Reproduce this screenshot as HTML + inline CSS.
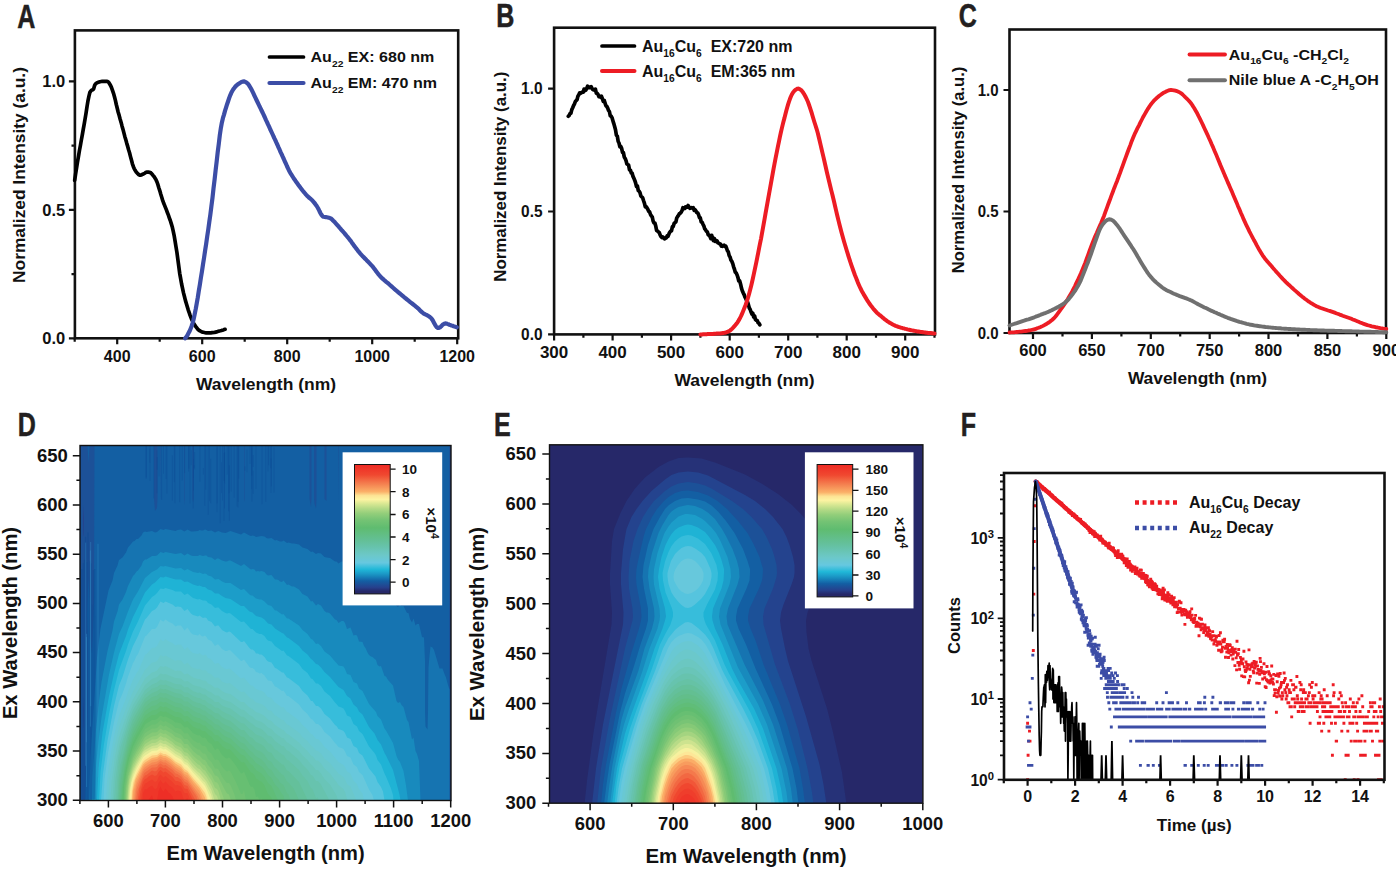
<!DOCTYPE html>
<html><head><meta charset="utf-8"><title>Figure</title>
<style>html,body{margin:0;padding:0;background:#fff}svg{display:block;font-family:"Liberation Sans",sans-serif;font-weight:bold}</style>
</head><body>
<svg width="1396" height="869" viewBox="0 0 1396 869">
<rect width="1396" height="869" fill="#fff"/>
<text transform="translate(17.3 27.9) scale(0.760 1)" font-size="33" text-anchor="start" fill="#231f20" stroke="#231f20" stroke-width="0.5">A</text>
<rect x="74.9" y="30.4" width="383.3" height="307.9" fill="none" stroke="#111" stroke-width="2.6"/>
<path d="M117.2 338.3v6M202.2 338.3v6M287.2 338.3v6M372.2 338.3v6M457.2 338.3v6M74.7 338.3v3.4M159.7 338.3v3.4M244.7 338.3v3.4M329.7 338.3v3.4M414.7 338.3v3.4" stroke="#111" stroke-width="2.2" fill="none"/>
<path d="M74.9 338.3h-6M74.9 209.9h-6M74.9 81.4h-6M74.9 274.1h-3.4M74.9 145.6h-3.4" stroke="#111" stroke-width="2.2" fill="none"/>
<path d="M74.7 180.3 75.6 174 76.6 167.8 77.5 161.9 78.5 156.2 79.4 150.8 80.4 145.5 81.3 140.2 82.3 134.9 83.2 129.6 84.2 124.2 85.1 118.7 86.1 112.8 87 106.7 87.9 101.2 88.9 96.4 89.8 92.6 90.8 91 91.7 90.1 92.7 89.7 93.6 89 94.6 85.5 95.5 83.9 96.5 83.1 97.4 82.6 98.4 82.2 99.3 81.9 100.2 81.7 101.2 81.5 102.1 81.4 103.1 81.4 104 81.4 105 81.4 105.9 81.4 106.9 81.4 107.8 81.5 108.8 82.5 109.7 84 110.7 85.7 111.6 87.8 112.5 90.4 113.5 93.3 114.4 96.5 115.4 100.4 116.3 104.5 117.3 108.5 118.2 112.2 119.2 115.6 120.1 119 121.1 122.4 122 125.9 123 129.4 123.9 132.9 124.8 136.4 125.8 139.8 126.7 143.1 127.7 146.4 128.6 149.7 129.6 153 130.5 156.6 131.5 160.3 132.4 163.8 133.4 166.7 134.3 168.8 135.3 170.6 136.2 172 137.2 173.1 138.1 174 139 174.8 140 175.2 140.9 175.1 141.9 174.7 142.8 174.2 143.8 173.8 144.7 173.2 145.7 172.5 146.6 172.1 147.6 172.1 148.5 172.2 149.5 172.3 150.4 172.5 151.3 173.3 152.3 174.4 153.2 175.6 154.2 176.8 155.1 178.2 156.1 179.9 157 182 158 184.9 158.9 188 159.9 191.1 160.8 194.3 161.8 197.5 162.7 200.4 163.6 203 164.6 205.4 165.5 207.7 166.5 210.1 167.4 212.6 168.4 215.2 169.3 217.8 170.3 220.5 171.2 223.4 172.2 226.7 173.1 230.6 174.1 235.3 175 240.6 175.9 246.3 176.9 252.2 177.8 259 178.8 266.4 179.7 273.3 180.7 278.9 181.6 284 182.6 288.7 183.5 292.9 184.5 296.8 185.4 300.4 186.4 303.7 187.3 306.8 188.2 309.8 189.2 312.7 190.1 315.4 191.1 317.9 192 320 193 322 193.9 323.7 194.9 325.2 195.8 326.6 196.8 327.9 197.7 329.1 198.7 330 199.6 330.7 200.5 331.2 201.5 331.7 202.4 332.1 203.4 332.3 204.3 332.5 205.3 332.7 206.2 332.9 207.2 332.9 208.1 332.9 209.1 332.9 210 332.8 211 332.8 211.9 332.7 212.8 332.6 213.8 332.5 214.7 332.4 215.7 332.1 216.6 331.9 217.6 331.6 218.5 331.3 219.5 331 220.4 330.8 221.4 330.5 222.3 330.2 223.3 329.9 224.2 329.6 225.1 329.3" fill="none" stroke="#000" stroke-width="3.7" stroke-linejoin="round" stroke-linecap="round"/>
<path d="M185.2 338.3 186.2 337 187.3 335.5 188.3 333.6 189.4 331.6 190.4 329.2 191.5 326.5 192.5 323.3 193.6 319.4 194.6 314.6 195.7 309.2 196.7 303.6 197.8 297.4 198.8 290.9 199.9 284.3 200.9 277.7 202 271.1 203 264.4 204.1 257.5 205.1 250.6 206.2 243.6 207.2 236.5 208.3 229.2 209.3 221.9 210.4 214.3 211.4 206.3 212.5 197.7 213.5 188.6 214.6 179.5 215.6 170.4 216.7 161.2 217.7 152.2 218.8 143.7 219.8 135.2 220.9 127.8 221.9 122.4 222.9 118.2 224 114.6 225 110.9 226.1 107.4 227.1 104.2 228.2 101 229.2 97.9 230.3 95.1 231.3 92.8 232.4 90.8 233.4 89.1 234.5 87.7 235.5 86.4 236.6 85.4 237.6 84.5 238.7 83.7 239.7 83.1 240.8 82.4 241.8 81.9 242.9 81.5 243.9 81.4 245 81.7 246 82.3 247.1 83.1 248.1 84.1 249.2 85.6 250.2 87.3 251.3 89.1 252.3 91.2 253.4 93.4 254.4 95.6 255.5 97.9 256.5 100 257.6 102.2 258.6 104.3 259.6 106.5 260.7 108.6 261.7 110.8 262.8 113 263.8 115.2 264.9 117.5 265.9 119.8 267 122.1 268 124.4 269.1 126.7 270.1 129 271.2 131.3 272.2 133.5 273.3 135.8 274.3 138.1 275.4 140.4 276.4 142.7 277.5 145 278.5 147.4 279.6 149.7 280.6 152.1 281.7 154.4 282.7 156.7 283.8 159 284.8 161.3 285.9 163.7 286.9 166 288 168.3 289 170.4 290.1 172.4 291.1 174.2 292.2 175.9 293.2 177.5 294.2 179.1 295.3 180.6 296.3 182.1 297.4 183.6 298.4 185 299.5 186.4 300.5 187.8 301.6 189.2 302.6 190.5 303.7 191.8 304.7 193 305.8 194.3 306.8 195.4 307.9 196.5 308.9 197.5 310 198.4 311 199.2 312.1 200.2 313.1 201.3 314.2 202.6 315.2 203.9 316.3 205.4 317.3 207 318.4 208.8 319.4 211 320.5 213.2 321.5 214.9 322.6 216.3 323.6 216.8 324.7 217 325.7 217.1 326.8 217.3 327.8 217.5 328.9 217.8 329.9 218.1 330.9 218.5 332 219.4 333 220.5 334.1 221.6 335.1 222.6 336.2 223.8 337.2 225 338.3 226.2 339.3 227.4 340.4 228.6 341.4 229.8 342.5 231 343.5 232.2 344.6 233.4 345.6 234.7 346.7 236 347.7 237.2 348.8 238.5 349.8 239.9 350.9 241.2 351.9 242.7 353 244.1 354 245.6 355.1 247 356.1 248.4 357.2 249.8 358.2 251.1 359.3 252.4 360.3 253.6 361.4 254.8 362.4 255.9 363.5 257 364.5 258.1 365.6 259.1 366.6 260.2 367.6 261.2 368.7 262.3 369.7 263.4 370.8 264.6 371.8 265.7 372.9 266.9 373.9 268.2 375 269.6 376 271.1 377.1 272.5 378.1 273.9 379.2 275.2 380.2 276.3 381.3 277.4 382.3 278.4 383.4 279.4 384.4 280.3 385.5 281.2 386.5 282.1 387.6 282.9 388.6 283.8 389.7 284.8 390.7 285.7 391.8 286.6 392.8 287.5 393.9 288.5 394.9 289.4 396 290.3 397 291.2 398.1 292.1 399.1 293 400.2 293.8 401.2 294.7 402.3 295.6 403.3 296.4 404.3 297.3 405.4 298.2 406.4 299 407.5 299.9 408.5 300.7 409.6 301.6 410.6 302.4 411.7 303.2 412.7 304 413.8 304.9 414.8 305.7 415.9 306.6 416.9 307.4 418 308.3 419 309.3 420.1 310.4 421.1 311.4 422.2 312.4 423.2 313.2 424.3 313.9 425.3 314.4 426.4 314.9 427.4 315.4 428.5 316.1 429.5 316.8 430.6 317.6 431.6 318.7 432.7 320.3 433.7 322.2 434.8 324.2 435.8 326 436.9 327.3 437.9 328 438.9 327.9 440 327.4 441 326.5 442.1 325.3 443.1 324.4 444.2 323.7 445.2 323.4 446.3 323.5 447.3 323.9 448.4 324.3 449.4 324.7 450.5 325.1 451.5 325.5 452.6 325.8 453.6 326.2 454.7 326.6 455.7 326.9 456.8 327.3" fill="none" stroke="#3c4da6" stroke-width="4.2" stroke-linejoin="round" stroke-linecap="round"/>
<text transform="translate(117.2 361.7)" font-size="16.0" text-anchor="middle" fill="#111">400</text>
<text transform="translate(202.2 361.7)" font-size="16.0" text-anchor="middle" fill="#111">600</text>
<text transform="translate(287.2 361.7)" font-size="16.0" text-anchor="middle" fill="#111">800</text>
<text transform="translate(372.2 361.7)" font-size="16.0" text-anchor="middle" fill="#111">1000</text>
<text transform="translate(457.2 361.7)" font-size="16.0" text-anchor="middle" fill="#111">1200</text>
<text transform="translate(65.2 343.9)" font-size="16.5" text-anchor="end" fill="#111">0.0</text>
<text transform="translate(65.2 215.5)" font-size="16.5" text-anchor="end" fill="#111">0.5</text>
<text transform="translate(65.2 87)" font-size="16.5" text-anchor="end" fill="#111">1.0</text>
<text transform="translate(266 389.8) scale(1.108 1)" font-size="15.8" text-anchor="middle" fill="#111">Wavelength (nm)</text>
<text transform="translate(24.5 175) rotate(-90)" font-size="17.35" text-anchor="middle" fill="#111">Normalized Intensity (a.u.)</text>
<path d="M269.5 57 303.5 57" fill="none" stroke="#000" stroke-width="3.7" stroke-linejoin="round" stroke-linecap="round"/>
<path d="M269.5 83 303.5 83" fill="none" stroke="#3c4da6" stroke-width="4.2" stroke-linejoin="round" stroke-linecap="round"/>
<text transform="translate(310.5 62) scale(1.085 1)" font-size="14.8" text-anchor="start" fill="#111">Au<tspan font-size="64%" dy="0.50em">22</tspan><tspan dy="-0.32em">&#8203;</tspan> EX: 680 nm</text>
<text transform="translate(310.5 88) scale(1.085 1)" font-size="14.8" text-anchor="start" fill="#111">Au<tspan font-size="64%" dy="0.50em">22</tspan><tspan dy="-0.32em">&#8203;</tspan> EM: 470 nm</text>
<text transform="translate(496.3 26.6) scale(0.760 1)" font-size="33" text-anchor="start" fill="#231f20" stroke="#231f20" stroke-width="0.5">B</text>
<rect x="554.1" y="27.7" width="380.9" height="306.7" fill="none" stroke="#111" stroke-width="2.6"/>
<path d="M554.1 334.4v6M612.6 334.4v6M671.1 334.4v6M729.7 334.4v6M788.2 334.4v6M846.7 334.4v6M905.2 334.4v6M583.4 334.4v3.4M641.9 334.4v3.4M700.4 334.4v3.4M758.9 334.4v3.4M817.4 334.4v3.4M876 334.4v3.4M934.5 334.4v3.4" stroke="#111" stroke-width="2.2" fill="none"/>
<path d="M554.1 334.4h-6M554.1 211.5h-6M554.1 88.6h-6" stroke="#111" stroke-width="2.2" fill="none"/>
<path d="M568.3 116.3 569.2 115.4 570.1 113.5 570.9 113.2 571.8 109.6 572.7 107.7 573.6 105.5 574.4 104.1 575.3 101.7 576.2 100.5 577.1 99.7 577.9 96.2 578.8 94.8 579.7 92.8 580.6 93.3 581.4 92.7 582.3 92 583.2 92.2 584.1 89.1 584.9 90.6 585.8 90.1 586.7 88.5 587.6 86.2 588.4 86.8 589.3 87.7 590.2 87.4 591.1 86.6 591.9 88.1 592.8 89.6 593.7 89.9 594.6 89.6 595.4 89.1 596.3 93.1 597.2 93.3 598 94.3 598.9 96.7 599.8 96.2 600.7 97.3 601.5 96.3 602.4 98.6 603.3 101.3 604.2 100.4 605 102.9 605.9 105.8 606.8 106.3 607.7 108.1 608.5 110.3 609.4 111.5 610.3 115.9 611.2 116.3 612 117.6 612.9 120.7 613.8 123.6 614.7 126.8 615.5 129.7 616.4 135.2 617.3 136.1 618.2 141.5 619 143 619.9 146.9 620.8 146.5 621.7 148.6 622.5 152.4 623.4 152.6 624.3 157.2 625.2 158.5 626 160.6 626.9 163.9 627.8 164.5 628.6 165 629.5 169.9 630.4 170 631.3 173 632.1 173.1 633 176.4 633.9 178.3 634.8 180.4 635.6 182.9 636.5 186.6 637.4 186 638.3 190.7 639.1 191.1 640 192.7 640.9 196 641.8 196.9 642.6 197.6 643.5 200.5 644.4 203.1 645.3 206.8 646.1 206.6 647 207.9 647.9 209.5 648.8 211.5 649.6 211.8 650.5 214.5 651.4 215.9 652.3 217.1 653.1 221 654 223 654.9 223 655.8 226.3 656.6 230.4 657.5 231 658.4 231.9 659.3 232.7 660.1 234.9 661 236.6 661.9 237.6 662.7 236.9 663.6 237.7 664.5 238.8 665.4 238.3 666.2 237.9 667.1 235.9 668 236.4 668.9 234.1 669.7 232.3 670.6 231.2 671.5 230.8 672.4 226.7 673.2 226.6 674.1 223.4 675 222.6 675.9 221.8 676.7 218.2 677.6 216.5 678.5 215.4 679.4 213.7 680.2 213.3 681.1 212.3 682 210.7 682.9 207.7 683.7 207.9 684.6 208.6 685.5 206.9 686.4 207.4 687.2 207 688.1 205.5 689 206.9 689.9 208.3 690.7 208 691.6 207.6 692.5 208.2 693.3 207.7 694.2 210.3 695.1 209.7 696 211 696.8 212.6 697.7 212.9 698.6 214.8 699.5 217.8 700.3 217.8 701.2 221.8 702.1 222.3 703 224.3 703.8 225.8 704.7 228.8 705.6 229.8 706.5 231.5 707.3 231.7 708.2 234.8 709.1 235.2 710 236.6 710.8 238.5 711.7 235.3 712.6 238.7 713.5 240.7 714.3 238.4 715.2 241.4 716.1 240.5 717 240.7 717.8 242.7 718.7 243.1 719.6 243.8 720.5 244 721.3 246.1 722.2 246.3 723.1 245.8 724 245.2 724.8 246.3 725.7 246.1 726.6 248.2 727.4 250.7 728.3 251.9 729.2 255.6 730.1 257.1 730.9 259.9 731.8 261.3 732.7 263.4 733.6 266.8 734.4 269 735.3 272.2 736.2 273 737.1 275 737.9 277.3 738.8 281 739.7 280.9 740.6 284.2 741.4 287.9 742.3 290.7 743.2 292.8 744.1 294.6 744.9 297 745.8 298.7 746.7 300.6 747.6 302.2 748.4 304.6 749.3 308 750.2 309.5 751.1 312.1 751.9 314 752.8 313.2 753.7 317 754.6 315.9 755.4 319.5 756.3 320.2 757.2 320.5 758 322.6 758.9 323.3 759.8 324.8" fill="none" stroke="#000" stroke-width="3.7" stroke-linejoin="round" stroke-linecap="round"/>
<path d="M700.4 334.4 701.3 334.4 702.2 334.4 703.1 334.3 704 334.3 704.9 334.3 705.8 334.2 706.7 334.2 707.6 334.1 708.5 334.1 709.4 334.1 710.3 334 711.2 334 712.1 333.9 713.1 333.9 714 333.8 714.9 333.8 715.8 333.7 716.7 333.6 717.6 333.6 718.5 333.5 719.4 333.4 720.3 333.4 721.2 333.3 722.1 333.2 723 333 723.9 332.9 724.8 332.7 725.7 332.5 726.6 332.2 727.5 331.8 728.4 331.4 729.3 330.9 730.2 330.4 731.1 329.7 732 328.8 732.9 327.9 733.8 326.9 734.7 325.9 735.6 324.8 736.6 323.6 737.5 322.3 738.4 320.9 739.3 319.4 740.2 317.7 741.1 315.9 742 313.9 742.9 311.8 743.8 309.6 744.7 307.3 745.6 305 746.5 302.4 747.4 299.7 748.3 296.7 749.2 293.5 750.1 290.1 751 286.6 751.9 282.7 752.8 278.7 753.7 274.6 754.6 270.4 755.5 266.1 756.4 261.8 757.3 257.3 758.2 252.8 759.1 248.2 760 243.6 761 238.8 761.9 233.9 762.8 228.9 763.7 223.8 764.6 218.8 765.5 213.7 766.4 208.6 767.3 203.6 768.2 198.6 769.1 193.6 770 188.7 770.9 183.7 771.8 178.7 772.7 173.6 773.6 168.6 774.5 163.9 775.4 159.2 776.3 154.7 777.2 150.2 778.1 145.7 779 141.3 779.9 136.9 780.8 132.8 781.7 128.9 782.6 125.1 783.5 121.5 784.5 117.9 785.4 114.2 786.3 110.7 787.2 107.5 788.1 104.4 789 101.6 789.9 99.1 790.8 96.8 791.7 94.8 792.6 93.2 793.5 91.9 794.4 90.8 795.3 90 796.2 89.4 797.1 88.8 798 88.6 798.9 88.7 799.8 89.2 800.7 89.8 801.6 90.6 802.5 91.7 803.4 93 804.3 94.4 805.2 96 806.1 97.8 807 99.8 808 102 808.9 104.5 809.8 107.2 810.7 109.9 811.6 112.7 812.5 115.7 813.4 118.7 814.3 121.7 815.2 124.5 816.1 127.3 817 130.3 817.9 133.5 818.8 137.2 819.7 141 820.6 144.9 821.5 148.7 822.4 152.6 823.3 156.4 824.2 160.3 825.1 164.3 826 168.2 826.9 172.2 827.8 176 828.7 179.8 829.6 183.5 830.5 187.2 831.4 190.9 832.4 194.7 833.3 198.5 834.2 202.3 835.1 206.2 836 210.1 836.9 214 837.8 217.7 838.7 221.4 839.6 225 840.5 228.6 841.4 232 842.3 235.3 843.2 238.5 844.1 241.7 845 244.8 845.9 247.8 846.8 250.8 847.7 253.7 848.6 256.6 849.5 259.4 850.4 262.2 851.3 264.8 852.2 267.4 853.1 270 854 272.5 854.9 275 855.9 277.4 856.8 279.8 857.7 282.1 858.6 284.2 859.5 286.2 860.4 288.2 861.3 290 862.2 291.7 863.1 293.3 864 294.9 864.9 296.4 865.8 297.9 866.7 299.4 867.6 300.8 868.5 302.2 869.4 303.5 870.3 304.8 871.2 306 872.1 307.1 873 308.3 873.9 309.4 874.8 310.4 875.7 311.4 876.6 312.4 877.5 313.2 878.4 314 879.3 314.8 880.3 315.5 881.2 316.3 882.1 317.1 883 317.8 883.9 318.6 884.8 319.3 885.7 320 886.6 320.6 887.5 321.3 888.4 321.9 889.3 322.5 890.2 323.1 891.1 323.6 892 324.1 892.9 324.5 893.8 325 894.7 325.4 895.6 325.8 896.5 326.1 897.4 326.5 898.3 326.8 899.2 327.1 900.1 327.4 901 327.7 901.9 327.9 902.8 328.2 903.8 328.4 904.7 328.7 905.6 328.9 906.5 329.1 907.4 329.4 908.3 329.6 909.2 329.8 910.1 330 911 330.2 911.9 330.4 912.8 330.6 913.7 330.7 914.6 330.9 915.5 331.1 916.4 331.2 917.3 331.4 918.2 331.5 919.1 331.6 920 331.8 920.9 331.9 921.8 332 922.7 332.2 923.6 332.3 924.5 332.4 925.4 332.5 926.3 332.7 927.2 332.8 928.2 332.9 929.1 333 930 333.1 930.9 333.1 931.8 333.2 932.7 333.3 933.6 333.4 934.5 333.4" fill="none" stroke="#ed1c24" stroke-width="4.0" stroke-linejoin="round" stroke-linecap="round"/>
<text transform="translate(554.1 358.3)" font-size="17.0" text-anchor="middle" fill="#111">300</text>
<text transform="translate(612.6 358.3)" font-size="17.0" text-anchor="middle" fill="#111">400</text>
<text transform="translate(671.1 358.3)" font-size="17.0" text-anchor="middle" fill="#111">500</text>
<text transform="translate(729.7 358.3)" font-size="17.0" text-anchor="middle" fill="#111">600</text>
<text transform="translate(788.2 358.3)" font-size="17.0" text-anchor="middle" fill="#111">700</text>
<text transform="translate(846.7 358.3)" font-size="17.0" text-anchor="middle" fill="#111">800</text>
<text transform="translate(905.2 358.3)" font-size="17.0" text-anchor="middle" fill="#111">900</text>
<text transform="translate(542.5 340.2) scale(0.940 1)" font-size="16.4" text-anchor="end" fill="#111">0.0</text>
<text transform="translate(542.5 217.3) scale(0.940 1)" font-size="16.4" text-anchor="end" fill="#111">0.5</text>
<text transform="translate(542.5 94.4) scale(0.940 1)" font-size="16.4" text-anchor="end" fill="#111">1.0</text>
<text transform="translate(744.5 385.6) scale(1.108 1)" font-size="15.8" text-anchor="middle" fill="#111">Wavelength (nm)</text>
<text transform="translate(506 176.7) rotate(-90)" font-size="16.9" text-anchor="middle" fill="#111">Normalized Intensity (a.u.)</text>
<path d="M602 46 634.5 46" fill="none" stroke="#000" stroke-width="3.7" stroke-linejoin="round" stroke-linecap="round"/>
<path d="M602 71 634.5 71" fill="none" stroke="#ed1c24" stroke-width="4.0" stroke-linejoin="round" stroke-linecap="round"/>
<text transform="translate(642 51.5)" font-size="16.0" text-anchor="start" fill="#111">Au<tspan font-size="64%" dy="0.50em">16</tspan><tspan dy="-0.32em">&#8203;</tspan>Cu<tspan font-size="64%" dy="0.50em">6</tspan><tspan dy="-0.32em">&#8203;</tspan>&#160; EX:720 nm</text>
<text transform="translate(642 76.7)" font-size="16.0" text-anchor="start" fill="#111">Au<tspan font-size="64%" dy="0.50em">16</tspan><tspan dy="-0.32em">&#8203;</tspan>Cu<tspan font-size="64%" dy="0.50em">6</tspan><tspan dy="-0.32em">&#8203;</tspan>&#160; EM:365 nm</text>
<text transform="translate(958.8 26.6) scale(0.760 1)" font-size="33" text-anchor="start" fill="#231f20" stroke="#231f20" stroke-width="0.5">C</text>
<rect x="1009.5" y="29.5" width="376.5" height="303.5" fill="none" stroke="#111" stroke-width="2.6"/>
<path d="M1033 333v6M1091.9 333v6M1150.8 333v6M1209.7 333v6M1268.5 333v6M1327.4 333v6M1386.3 333v6M1062.5 333v3.4M1121.4 333v3.4M1180.2 333v3.4M1239.1 333v3.4M1298 333v3.4M1356.9 333v3.4" stroke="#111" stroke-width="2.2" fill="none"/>
<path d="M1009.5 333h-6M1009.5 211.5h-6M1009.5 90h-6" stroke="#111" stroke-width="2.2" fill="none"/>
<path d="M1009.5 332.5 1011 332.4 1012.4 332.4 1013.9 332.3 1015.3 332.1 1016.8 332 1018.2 331.9 1019.7 331.7 1021.1 331.6 1022.6 331.4 1024 331.2 1025.5 331 1027 330.8 1028.4 330.5 1029.9 330.3 1031.3 330 1032.8 329.7 1034.2 329.3 1035.7 328.9 1037.1 328.3 1038.6 327.8 1040.1 327.2 1041.5 326.6 1043 325.9 1044.4 325.1 1045.9 324.3 1047.3 323.4 1048.8 322.5 1050.2 321.4 1051.7 320.3 1053.1 319 1054.6 317.6 1056.1 315.8 1057.5 313.9 1059 311.8 1060.4 309.8 1061.9 307.8 1063.3 305.8 1064.8 303.7 1066.2 301.6 1067.7 299.3 1069.1 296.8 1070.6 294.3 1072.1 291.7 1073.5 288.9 1075 286 1076.4 282.9 1077.9 279.9 1079.3 276.7 1080.8 273.5 1082.2 270.1 1083.7 266.6 1085.2 262.9 1086.6 258.9 1088.1 254.9 1089.5 251 1091 247 1092.4 243.2 1093.9 239.5 1095.3 236 1096.8 232.8 1098.2 229.5 1099.7 226.1 1101.2 222.8 1102.6 219.3 1104.1 215.7 1105.5 211.7 1107 207.7 1108.4 203.7 1109.9 199.8 1111.3 195.9 1112.8 192 1114.2 188.2 1115.7 184.4 1117.2 180.7 1118.6 176.8 1120.1 172.9 1121.5 168.9 1123 164.9 1124.4 160.9 1125.9 156.9 1127.3 153 1128.8 149 1130.3 145.1 1131.7 141.2 1133.2 137.5 1134.6 134.2 1136.1 131.1 1137.5 128.2 1139 125.3 1140.4 122.4 1141.9 119.5 1143.3 116.7 1144.8 114.1 1146.3 111.5 1147.7 109.1 1149.2 106.9 1150.6 104.8 1152.1 102.9 1153.5 101.2 1155 99.7 1156.4 98.3 1157.9 97 1159.3 95.8 1160.8 94.7 1162.3 93.6 1163.7 92.7 1165.2 92 1166.6 91.3 1168.1 90.6 1169.5 90.2 1171 90 1172.4 90.1 1173.9 90.3 1175.4 90.7 1176.8 91.1 1178.3 91.7 1179.7 92.4 1181.2 93.3 1182.6 94.5 1184.1 96 1185.5 97.4 1187 98.8 1188.4 100.3 1189.9 101.9 1191.4 103.8 1192.8 105.9 1194.3 108.3 1195.7 110.7 1197.2 113.3 1198.6 116.2 1200.1 119.1 1201.5 122 1203 125.1 1204.4 128.2 1205.9 131.4 1207.4 134.6 1208.8 137.8 1210.3 141 1211.7 144.3 1213.2 147.6 1214.6 151 1216.1 154.4 1217.5 157.9 1219 161.5 1220.4 165 1221.9 168.5 1223.4 172 1224.8 175.4 1226.3 178.7 1227.7 182.1 1229.2 185.4 1230.6 188.7 1232.1 192.1 1233.5 195.5 1235 198.9 1236.5 202.4 1237.9 205.9 1239.4 209.3 1240.8 212.7 1242.3 216.1 1243.7 219.4 1245.2 222.6 1246.6 225.7 1248.1 228.7 1249.5 231.6 1251 234.5 1252.5 237.3 1253.9 240 1255.4 242.7 1256.8 245.4 1258.3 248.1 1259.7 250.6 1261.2 253 1262.6 255.3 1264.1 257.4 1265.5 259.3 1267 261.1 1268.5 262.7 1269.9 264.4 1271.4 266 1272.8 267.7 1274.3 269.4 1275.7 271.1 1277.2 272.7 1278.6 274.3 1280.1 276 1281.6 277.6 1283 279.1 1284.5 280.6 1285.9 282.1 1287.4 283.5 1288.8 284.8 1290.3 286.1 1291.7 287.5 1293.2 288.8 1294.6 290.1 1296.1 291.4 1297.6 292.7 1299 294 1300.5 295.2 1301.9 296.4 1303.4 297.6 1304.8 298.7 1306.3 299.8 1307.7 300.8 1309.2 301.8 1310.6 302.8 1312.1 303.7 1313.6 304.6 1315 305.4 1316.5 306.2 1317.9 306.8 1319.4 307.4 1320.8 308 1322.3 308.5 1323.7 309 1325.2 309.5 1326.7 310 1328.1 310.5 1329.6 310.9 1331 311.4 1332.5 311.9 1333.9 312.4 1335.4 312.9 1336.8 313.5 1338.3 314 1339.7 314.6 1341.2 315.1 1342.7 315.7 1344.1 316.2 1345.6 316.7 1347 317.2 1348.5 317.7 1349.9 318.2 1351.4 318.8 1352.8 319.4 1354.3 320 1355.7 320.6 1357.2 321.2 1358.7 321.8 1360.1 322.4 1361.6 323 1363 323.6 1364.5 324.1 1365.9 324.6 1367.4 325.1 1368.8 325.5 1370.3 325.9 1371.8 326.3 1373.2 326.6 1374.7 326.9 1376.1 327.3 1377.6 327.5 1379 327.8 1380.5 328.1 1381.9 328.3 1383.4 328.6 1384.8 328.8 1386.3 329" fill="none" stroke="#ed1c24" stroke-width="3.8" stroke-linejoin="round" stroke-linecap="round"/>
<path d="M1009.5 325.5 1011 325 1012.4 324.5 1013.9 324 1015.3 323.5 1016.8 323.1 1018.2 322.6 1019.7 322.1 1021.1 321.6 1022.6 321.1 1024 320.7 1025.5 320.2 1027 319.7 1028.4 319.3 1029.9 318.8 1031.3 318.3 1032.8 317.8 1034.2 317.3 1035.7 316.7 1037.1 316.2 1038.6 315.6 1040.1 315 1041.5 314.4 1043 313.9 1044.4 313.3 1045.9 312.8 1047.3 312.2 1048.8 311.6 1050.2 310.9 1051.7 310.3 1053.1 309.5 1054.6 308.8 1056.1 308 1057.5 307.2 1059 306.5 1060.4 305.6 1061.9 304.8 1063.3 303.8 1064.8 302.8 1066.2 301.5 1067.7 300.2 1069.1 298.6 1070.6 296.8 1072.1 294.9 1073.5 292.9 1075 290.9 1076.4 288.6 1077.9 286.1 1079.3 283.4 1080.8 280.3 1082.2 276.8 1083.7 273 1085.2 269.3 1086.6 265.6 1088.1 261.9 1089.5 258 1091 254 1092.4 249.9 1093.9 245.7 1095.3 241.5 1096.8 237.4 1098.2 233.3 1099.7 229.5 1101.2 226.7 1102.6 224.5 1104.1 222.7 1105.5 221.1 1107 220.1 1108.4 219.5 1109.9 219.3 1111.3 219.7 1112.8 220.4 1114.2 221.7 1115.7 223.4 1117.2 225.2 1118.6 227.1 1120.1 229.2 1121.5 231.4 1123 233.7 1124.4 235.9 1125.9 238.1 1127.3 240.2 1128.8 242.4 1130.3 244.6 1131.7 246.8 1133.2 249 1134.6 251.3 1136.1 253.8 1137.5 256.3 1139 258.8 1140.4 261.2 1141.9 263.7 1143.3 266 1144.8 268.4 1146.3 270.7 1147.7 272.9 1149.2 274.9 1150.6 276.6 1152.1 278.3 1153.5 279.8 1155 281.3 1156.4 282.6 1157.9 283.9 1159.3 285.1 1160.8 286.3 1162.3 287.5 1163.7 288.5 1165.2 289.4 1166.6 290.2 1168.1 290.9 1169.5 291.6 1171 292.3 1172.4 293 1173.9 293.7 1175.4 294.3 1176.8 294.9 1178.3 295.5 1179.7 296.1 1181.2 296.6 1182.6 297.1 1184.1 297.6 1185.5 298.2 1187 298.7 1188.4 299.3 1189.9 299.9 1191.4 300.6 1192.8 301.3 1194.3 302.1 1195.7 302.9 1197.2 303.7 1198.6 304.5 1200.1 305.2 1201.5 305.9 1203 306.7 1204.4 307.4 1205.9 308.1 1207.4 308.8 1208.8 309.5 1210.3 310.2 1211.7 310.9 1213.2 311.5 1214.6 312.2 1216.1 312.8 1217.5 313.5 1219 314.1 1220.4 314.8 1221.9 315.4 1223.4 316 1224.8 316.6 1226.3 317.2 1227.7 317.8 1229.2 318.3 1230.6 318.9 1232.1 319.4 1233.5 319.9 1235 320.4 1236.5 320.9 1237.9 321.3 1239.4 321.8 1240.8 322.2 1242.3 322.6 1243.7 323 1245.2 323.4 1246.6 323.8 1248.1 324.1 1249.5 324.5 1251 324.8 1252.5 325 1253.9 325.3 1255.4 325.6 1256.8 325.8 1258.3 326 1259.7 326.2 1261.2 326.4 1262.6 326.6 1264.1 326.8 1265.5 327 1267 327.1 1268.5 327.3 1269.9 327.4 1271.4 327.6 1272.8 327.7 1274.3 327.9 1275.7 328 1277.2 328.1 1278.6 328.2 1280.1 328.3 1281.6 328.5 1283 328.6 1284.5 328.7 1285.9 328.8 1287.4 328.9 1288.8 329 1290.3 329 1291.7 329.1 1293.2 329.2 1294.6 329.3 1296.1 329.4 1297.6 329.5 1299 329.5 1300.5 329.6 1301.9 329.7 1303.4 329.7 1304.8 329.8 1306.3 329.9 1307.7 330 1309.2 330 1310.6 330.1 1312.1 330.1 1313.6 330.2 1315 330.3 1316.5 330.3 1317.9 330.4 1319.4 330.4 1320.8 330.5 1322.3 330.5 1323.7 330.5 1325.2 330.6 1326.7 330.6 1328.1 330.7 1329.6 330.7 1331 330.7 1332.5 330.8 1333.9 330.8 1335.4 330.9 1336.8 330.9 1338.3 331 1339.7 331 1341.2 331 1342.7 331.1 1344.1 331.1 1345.6 331.2 1347 331.2 1348.5 331.2 1349.9 331.3 1351.4 331.3 1352.8 331.4 1354.3 331.4 1355.7 331.4 1357.2 331.5 1358.7 331.5 1360.1 331.6 1361.6 331.6 1363 331.6 1364.5 331.7 1365.9 331.7 1367.4 331.8 1368.8 331.8 1370.3 331.8 1371.8 331.9 1373.2 331.9 1374.7 331.9 1376.1 332 1377.6 332 1379 332.1 1380.5 332.1 1381.9 332.1 1383.4 332.2 1384.8 332.2 1386.3 332.3" fill="none" stroke="#707070" stroke-width="3.9" stroke-linejoin="round" stroke-linecap="round"/>
<text transform="translate(1033 356.2)" font-size="16.5" text-anchor="middle" fill="#111">600</text>
<text transform="translate(1091.9 356.2)" font-size="16.5" text-anchor="middle" fill="#111">650</text>
<text transform="translate(1150.8 356.2)" font-size="16.5" text-anchor="middle" fill="#111">700</text>
<text transform="translate(1209.7 356.2)" font-size="16.5" text-anchor="middle" fill="#111">750</text>
<text transform="translate(1268.5 356.2)" font-size="16.5" text-anchor="middle" fill="#111">800</text>
<text transform="translate(1327.4 356.2)" font-size="16.5" text-anchor="middle" fill="#111">850</text>
<text transform="translate(1386.3 356.2)" font-size="16.5" text-anchor="middle" fill="#111">900</text>
<text transform="translate(998.5 338.6) scale(0.950 1)" font-size="15.8" text-anchor="end" fill="#111">0.0</text>
<text transform="translate(998.5 217.1) scale(0.950 1)" font-size="15.8" text-anchor="end" fill="#111">0.5</text>
<text transform="translate(998.5 95.6) scale(0.950 1)" font-size="15.8" text-anchor="end" fill="#111">1.0</text>
<text transform="translate(1197.5 384.3) scale(1.100 1)" font-size="15.8" text-anchor="middle" fill="#111">Wavelength (nm)</text>
<text transform="translate(963.8 170) rotate(-90)" font-size="16.6" text-anchor="middle" fill="#111">Normalized Intensity (a.u.)</text>
<path d="M1189.5 54.5 1225 54.5" fill="none" stroke="#ed1c24" stroke-width="3.8" stroke-linejoin="round" stroke-linecap="round"/>
<path d="M1189.5 80.2 1225 80.2" fill="none" stroke="#707070" stroke-width="3.9" stroke-linejoin="round" stroke-linecap="round"/>
<text transform="translate(1228.8 59.6) scale(1.055 1)" font-size="15.2" text-anchor="start" fill="#111">Au<tspan font-size="64%" dy="0.50em">16</tspan><tspan dy="-0.32em">&#8203;</tspan>Cu<tspan font-size="64%" dy="0.50em">6</tspan><tspan dy="-0.32em">&#8203;</tspan> -CH<tspan font-size="64%" dy="0.50em">2</tspan><tspan dy="-0.32em">&#8203;</tspan>Cl<tspan font-size="64%" dy="0.50em">2</tspan><tspan dy="-0.32em">&#8203;</tspan></text>
<text transform="translate(1228.8 85.3) scale(1.055 1)" font-size="15.2" text-anchor="start" fill="#111">Nile blue A -C<tspan font-size="64%" dy="0.50em">2</tspan><tspan dy="-0.32em">&#8203;</tspan>H<tspan font-size="64%" dy="0.50em">5</tspan><tspan dy="-0.32em">&#8203;</tspan>OH</text>
<defs><linearGradient id="cm" x1="0" y1="1" x2="0" y2="0"><stop offset="0.00" stop-color="#262869"/><stop offset="0.02" stop-color="#262869"/><stop offset="0.05" stop-color="#26408c"/><stop offset="0.10" stop-color="#135fa3"/><stop offset="0.12" stop-color="#1674b1"/><stop offset="0.14" stop-color="#188abd"/><stop offset="0.16" stop-color="#1c9dc9"/><stop offset="0.19" stop-color="#20b8d8"/><stop offset="0.24" stop-color="#66c8e0"/><stop offset="0.30" stop-color="#6cc8c8"/><stop offset="0.40" stop-color="#64c09c"/><stop offset="0.51" stop-color="#5fbc70"/><stop offset="0.57" stop-color="#74c374"/><stop offset="0.62" stop-color="#92ce7a"/><stop offset="0.66" stop-color="#b4da86"/><stop offset="0.70" stop-color="#dce994"/><stop offset="0.73" stop-color="#fdf3a2"/><stop offset="0.76" stop-color="#fde394"/><stop offset="0.79" stop-color="#fbb068"/><stop offset="0.85" stop-color="#f48050"/><stop offset="0.92" stop-color="#f04830"/><stop offset="1.00" stop-color="#ee2a24"/></linearGradient></defs>
<text transform="translate(17.7 436.4) scale(0.760 1)" font-size="33" text-anchor="start" fill="#231f20" stroke="#231f20" stroke-width="0.5">D</text>
<clipPath id="clipD"><rect x="80" y="445.5" width="371" height="355"/></clipPath>
<g clip-path="url(#clipD)">
<rect x="80" y="445.5" width="371" height="355" fill="#24438e"/>
<path d="M81.5 800.5 449.5 800.5 449.5 446 80 446 80 800.5ZM83 726.5 83 711.5 83.5 697 84 711.5 83.5 728ZM83 534.5 83 519.5 83.5 505 84 519.5 83.5 536.5Z" fill="#1c5198" fill-rule="evenodd"/>
<path d="M86.5 800.5 449.5 800.5 449.5 446 338.5 446 338.5 502.5 338 446 326.5 446 326.5 501 324.5 499 324.5 446 316.5 446 316.5 499 316 508.5 314.5 504 314 499 314 446 311.5 446 311.5 499 311 507 309.5 499 309.5 446 244.5 446 244.5 499 244 502.5 244 446 193.5 446 193.5 499 193 502.5 192.5 499 192.5 446 184.5 446 184.5 505.5 184 499 184 446 160.5 446 160.5 502 160 446 157.5 446 157.5 499 157 508 155 511 154 499 154 446 94.5 446 94 605.5 92 653.5 89.5 635 89.5 599.5 88.5 577 87 614 88 649.5 88 711.5 85 800.5ZM80 635 80.5 617 80 597 80 635.5ZM88.5 464 89.5 446 87.5 446 88.5 463.5Z" fill="#135fa3" fill-rule="evenodd"/>
<path d="M90 800.5 449.5 800.5 449.5 689.5 448 685 446 677.5 444.5 674 442.5 668.5 439.5 668.5 434 650 432.5 647.5 430.5 646.5 429.5 655.5 428.5 667.5 428 711.5 427.5 729.5 425.5 726.5 425 711.5 425 661.5 424 637.5 422 637 419 624 417 624 415.5 625.5 413.5 618.5 412 622.5 410 619 408.5 613 407 613 403.5 606 401.5 606 400 604.5 398 607 396.5 606 393 595.5 388 594 386 592 384.5 592.5 381 586 379.5 586.5 377.5 586.5 376 583 372.5 581.5 371 581.5 369 581 367.5 579.5 365.5 576.5 364 575.5 362.5 573 359 573.5 357 569 353.5 570 350.5 565 347 566.5 345 562.5 343.5 561.5 341.5 561.5 338.5 563.5 336.5 561.5 335 561.5 330 558 326.5 557.5 324.5 557 321 553.5 318 553 316 554 312.5 551.5 311 552 307.5 549 302.5 547.5 299 544.5 294 543.5 292 543.5 288.5 542.5 287 543 283.5 540.5 282 541.5 280 541.5 276.5 540 275 540.5 271.5 538 268 538.5 266.5 538 264.5 536.5 261.5 536 256 537 254.5 536 252.5 535.5 251 536 249.5 535.5 244 532.5 241 534.5 230.5 531 229 531.5 227 532.5 225.5 533 222 532.5 218.5 531 217 531.5 215 532.5 211.5 530.5 208 531 206.5 530 205 529.5 203 530.5 201.5 530.5 199.5 530 198 531 193 531.5 191 531.5 187.5 529.5 184.5 531.5 181 529.5 177.5 530 175.5 531 165.5 529 163.5 530 160.5 529 157 532 155 532.5 152 531 146.5 532 145 531.5 143 532.5 141.5 535.5 138 539 136.5 539 134.5 541 133 541.5 131 544 128 547.5 126 552.5 122.5 557.5 119 560 117.5 565.5 114 573 112.5 580.5 108.5 590.5 100.5 628.5 97 657.5 90.5 756 89 800.5Z" fill="#1674b1" fill-rule="evenodd"/>
<path d="M93.5 800.5 420.5 800.5 419 761 417 754 415.5 751 413.5 737.5 412 739.5 408.5 722 407 720 403.5 707 401.5 705 400 702 398 703 396.5 701 393 685.5 388 680 386 676.5 384.5 676 381 666 379.5 666.5 377.5 665 376 660 372.5 657 371 656.5 369 655 367.5 652.5 365.5 648 364 646 362.5 642 359 641.5 357 635.5 355.5 635 353.5 635.5 350.5 627.5 347 629 345 623 343.5 621 341.5 621 338.5 623 336.5 620 335 619.5 330 613.5 328 612.5 326.5 612.5 324.5 611 321 605.5 318 604 316 605.5 312.5 601 311 601.5 307.5 596.5 302.5 594 299 589.5 294 586.5 292 586.5 288.5 584.5 287 585 283.5 580.5 282 582 280 581.5 278.5 580 276.5 579.5 275 579.5 271.5 575 268 575.5 266.5 574.5 264.5 572 261.5 571 259.5 571.5 258 571 256 571.5 254.5 569.5 252.5 569 251 569.5 249.5 568.5 244 564 242.5 565 241 566 230.5 560.5 229 560.5 227 561.5 225.5 561.5 222 560.5 218.5 558.5 217 558.5 215 560 211.5 557.5 208 557 206.5 555.5 205 555.5 203 556 199.5 555 198 556 193 556 191 555.5 187.5 553.5 184.5 555.5 181 553 175.5 554 165.5 552 163.5 553 160.5 552 157 555.5 155 556 152 556 146.5 559.5 145 559.5 143 561.5 141.5 565.5 138 570.5 136.5 571.5 134.5 574.5 133 576 128 586 126 592 122.5 599.5 119 604.5 117.5 611.5 114 621.5 112.5 630.5 107.5 651 101.5 682 99.5 697 96 729.5 94 756 92.5 776.5 92 800.5Z" fill="#188abd" fill-rule="evenodd"/>
<path d="M95.5 800.5 408 800.5 406 785.5 403.5 771 400 762 398 759.5 396.5 756 393 743 386 730.5 384.5 728.5 381 719.5 377.5 716 376 712 369 704 362.5 691 359 688.5 357 683.5 353.5 682 350.5 675 347 674 345 669 343.5 666.5 341.5 666 338.5 665.5 336.5 663 335 661.5 330 655.5 324.5 651.5 321 646 318 643.5 316 644 312.5 639.5 311 639 307.5 634 302.5 630 299 625.5 288.5 618.5 287 618.5 283.5 614 282 614.5 276.5 610.5 275 610.5 271.5 606 268 605 264.5 601.5 261.5 599.5 259.5 599.5 256 598.5 252.5 595.5 251 595.5 249.5 594.5 244 589 241 590 230.5 583 225.5 583 222 581.5 218.5 579 215 579.5 211.5 576.5 208 575.5 206.5 574 205 573.5 203 574 199.5 572.5 198 573 193 572 187.5 569 184.5 570.5 181 568 175.5 568.5 165.5 566 163.5 566.5 160.5 566 157 569.5 152 572 145 578 138 591.5 133 599.5 128 611.5 122.5 626.5 119 634 114 652.5 109 674.5 101.5 717.5 98.5 741 96 765 94.5 800.5Z" fill="#1c9dc9" fill-rule="evenodd"/>
<path d="M97 800.5 400.5 800.5 399.5 794.5 393 770 386 755.5 384.5 753 381 744.5 377.5 740 374.5 733.5 369 727 362.5 714.5 359 711.5 357 707.5 353.5 704.5 350.5 698.5 347 696 345 692.5 343.5 690 338.5 687 330 677 324.5 672 321 667.5 318 664.5 316 664 312.5 660 311 659 307.5 654.5 302.5 650.5 299 646 288.5 638 287 637.5 283.5 633.5 282 633 275 628.5 271.5 624.5 268 623.5 264.5 619.5 261.5 617.5 256 616 252.5 612.5 249.5 611.5 244 606 241 606 230.5 599 225.5 598 222 596 218.5 593.5 215 593.5 211.5 590.5 208 589.5 205 587 203 587 199.5 585.5 198 586 193 584.5 187.5 581.5 184.5 582 181 579.5 175.5 579.5 165.5 576.5 163.5 577.5 160.5 577 155 582.5 152 584.5 145 592.5 138 607 133 617 128 629.5 126 636 119 654 114 673.5 109 696 102.5 732.5 98.5 768 97 800.5Z" fill="#1fb3d5" fill-rule="evenodd"/>
<path d="M100.5 800.5 393.5 800.5 393 795 391 788.5 386 776.5 384.5 773.5 381 764.5 377.5 760 376 755.5 374.5 753 369 746.5 362.5 734 359 731 357 726.5 353.5 724 350.5 717 347 715.5 345 711 343.5 708.5 341.5 707.5 338.5 706.5 336.5 704 335 702.5 330 696 324.5 691.5 321 686 318 683.5 316 683.5 312.5 679 311 678.5 307.5 673 302.5 669 299 664 288.5 656 287 655.5 283.5 650.5 282 651 276.5 647 275 646 271.5 641.5 268 640.5 266.5 639 264.5 636 261.5 634 259.5 634 256 632.5 252.5 629 251 629 249.5 627.5 244 621.5 241 622 230.5 613.5 229 613 227 613.5 225.5 613 222 611 218.5 607.5 217 607.5 215 608 211.5 604.5 208 603 206.5 601 205 600.5 203 600.5 199.5 599 198 599.5 193 598 187.5 593.5 184.5 595 181 591.5 177.5 591.5 175.5 591.5 172.5 590 165.5 588 163.5 589 160.5 588.5 157 593 155 595 152 597 145 605.5 138 621.5 133 631.5 128 644.5 126 651 119 670 114 690 109 714 104 744 100.5 772 99 800.5Z" fill="#37bddb" fill-rule="evenodd"/>
<path d="M102 800.5 384.5 800.5 383 791.5 381 787 377.5 782 375.5 776.5 369 768.5 362.5 755.5 359 753 357 748 353.5 746 350.5 739 347 737.5 345 733 343.5 731 341.5 730 338.5 729 336.5 726 335 725 330 718.5 324.5 714 321 708.5 318 706 316 706 312.5 701 311 701 307.5 695.5 302.5 691 299 686 288.5 678 287 677.5 283.5 672.5 282 672.5 276.5 668.5 275 668 271.5 662.5 268 661.5 266.5 660 264.5 657 261.5 654.5 259.5 654.5 258 653.5 256 653.5 254.5 651 252.5 649.5 251 649.5 249.5 648 244 641 242.5 642 241 642 230.5 632 229 631.5 227 632.5 225.5 632 222 630 218.5 625.5 217 625.5 215 626.5 211.5 622 208 620.5 206.5 618 205 617.5 203 618 201.5 617 199.5 615.5 198 616.5 193 615 191 613.5 187.5 609 184.5 611 181 607 177.5 606.5 175.5 607 172.5 604.5 165.5 601.5 163.5 603 160.5 601.5 157 607.5 155 609.5 152 611 146.5 618 145 619.5 138 636 133 646 128 659.5 122.5 677 119 685.5 114 706 107.5 740.5 103 773.5 101 800.5Z" fill="#56c4de" fill-rule="evenodd"/>
<path d="M104 800.5 374 800.5 372.5 795 369 789.5 362.5 775 359 772 357 767 353.5 764.5 350.5 757.5 347 756 345 751.5 343.5 749 341.5 748 338.5 747 336.5 744.5 335 743 330 736.5 324.5 732 321 726.5 318 724 316 724 312.5 719.5 311 719 307.5 714 302.5 709.5 299 704.5 288.5 696 287 696 283.5 690.5 282 691 276.5 687 275 686.5 271.5 681 268 680.5 266.5 678.5 264.5 675.5 261.5 673 259.5 673.5 258 672.5 256 672 254.5 669.5 252.5 668 251 668 249.5 667 244 659.5 242.5 660.5 241 661 230.5 650.5 229 650 227 651 225.5 651 222 649 218.5 644.5 217 644.5 215 646 211.5 641 208 639.5 206.5 637 205 635.5 203 636.5 201.5 636 199.5 634 198 635.5 193 634.5 191 633 187.5 627.5 184.5 630.5 181 625.5 177.5 625.5 175.5 626.5 172.5 623.5 169 622 165.5 619.5 163.5 621.5 162 621 160.5 619.5 157 627 155 629 152 629 146.5 635.5 145 636.5 138 654 136.5 656 134.5 660.5 133 663 128 676.5 126 683.5 122.5 693.5 119 701.5 114 722 108 753 104.5 779.5 103.5 800.5Z" fill="#67c8dc" fill-rule="evenodd"/>
<path d="M107.5 800.5 364 800.5 362.5 793.5 359 789 357 784 353.5 780.5 350.5 773.5 347 771.5 345 767 343.5 765 338.5 762 330 751.5 324.5 747 321 742 318 739 316 739 312.5 734.5 311 734 307.5 729.5 302.5 725 299 720.5 288.5 712.5 287 712 283.5 707 282 707.5 276.5 703.5 275 702.5 271.5 698 268 697 266.5 695.5 264.5 692.5 261.5 690.5 259.5 690.5 256 689 252.5 685.5 251 685.5 249.5 684 244 677.5 242.5 678 241 678.5 230.5 669 229 668.5 227 669 225.5 669 222 667 218.5 663 217 663 215 664 211.5 659.5 208 658 206.5 655.5 205 654.5 203 655.5 201.5 654.5 199.5 653 198 654 193 653 191 651.5 187.5 647 184.5 649.5 181 644.5 177.5 644.5 175.5 645.5 172.5 643 169 641.5 165.5 639 163.5 641 162 640.5 160.5 639 157 646 155 647.5 152 648 146.5 654 145 655 138.5 670.5 136.5 673 134.5 677 133 679.5 128 692 126 698.5 119 716 114 736.5 109 764 107 782.5 106 800.5Z" fill="#69c8d3" fill-rule="evenodd"/>
<path d="M109 800.5 356.5 800.5 350.5 786.5 347 784 345 779.5 343.5 777 338.5 773.5 330 763 324.5 758.5 321 753.5 318 751 316 750.5 312.5 746.5 311 745.5 307.5 741 302.5 737 299 732.5 288.5 725 287 724.5 283.5 720 282 720 276.5 716 275 715.5 271.5 711 268 710 264.5 706 261.5 704 256 702.5 252.5 699 251 698.5 249.5 697.5 244 691.5 242.5 692 241 692 230.5 683.5 229 683 227 683.5 225.5 683 222 681.5 218.5 677.5 217 677.5 215 678 211.5 674.5 208 673 206.5 671 205 670 203 670.5 201.5 670 199.5 668.5 198 669 193 668 191 666.5 187.5 662.5 184.5 664.5 181 660.5 177.5 660 175.5 661 165.5 655.5 163.5 656.5 160.5 655 157 661 155 662 152 662.5 146.5 668.5 145 669.5 138.5 682 133 691.5 128 703 119 727 114 748.5 109.5 779.5 108 800.5Z" fill="#6bc8cb" fill-rule="evenodd"/>
<path d="M110.5 800.5 347.5 800.5 345 792 343.5 789 338.5 785 336.5 782 330 773.5 324.5 768.5 321 763.5 318 760.5 316 760.5 312.5 756 311 755.5 307.5 751 302.5 746.5 299 742.5 288.5 734.5 287 734 283.5 730 282 729.5 275 725 271.5 721 268 719.5 264.5 716 261.5 714 256 712 252.5 709 249.5 707.5 244 702 241 702 230.5 694 225.5 693 222 691 218.5 688 217 687.5 215 688 211.5 685 208 683.5 206.5 681.5 205 680.5 203 680.5 199.5 679 198 679 193 677.5 187.5 673.5 184.5 674.5 181 671 177.5 670.5 175.5 671 165.5 666 163.5 667 160.5 666 157 670.5 155 671.5 152 672.5 145 678.5 133 699.5 128 711 119 736.5 115 756 111.5 782.5 110.5 800.5Z" fill="#6bc7c1" fill-rule="evenodd"/>
<path d="M114 800.5 338 800.5 336.5 795.5 333 789.5 330 784.5 324.5 779 321 773.5 318 770 316 770 312.5 765.5 311 764.5 307.5 760 302.5 755.5 299 751 288.5 743 287 742.5 283.5 738 282 738 275 733 271.5 729 268 727.5 264.5 724 261.5 722 256 720 252.5 716.5 249.5 715 244 710 241 709.5 230.5 702 225.5 700.5 222 699 218.5 695.5 215 695.5 211.5 692.5 208 691 205 688.5 203 688.5 199.5 686.5 198 686.5 193 685 187.5 681 184.5 681.5 181 678.5 175.5 678 165.5 674 163.5 674.5 160.5 673.5 157 677 152 679 145 685 133 705 128 717 119.5 744 116.5 759 114 776.5 112.5 800.5Z" fill="#69c5b8" fill-rule="evenodd"/>
<path d="M116 800.5 329 800.5 328 797.5 326.5 795 321 784.5 318 781 316 781 312.5 775.5 311 775 307.5 769.5 302.5 764.5 299 760 288.5 751 287 750.5 283.5 746 282 746 275 741 271.5 736.5 268 735.5 264.5 731.5 261.5 729 256 727 252.5 724 249.5 722 244 717 241 716.5 230.5 708.5 225.5 707 222 705.5 218.5 702 215 702 211.5 699 208 697 205 694.5 203 694.5 199.5 692.5 198 693 193 691 187.5 687 184.5 687.5 181 684.5 175.5 684 165.5 680 163.5 680.5 160.5 679.5 157 682.5 152 684.5 145 690 133 710 128 723 120.5 747 118.5 756 115.5 779.5 114 800.5Z" fill="#67c3ae" fill-rule="evenodd"/>
<path d="M117.5 800.5 318.5 800.5 318 797.5 316 798 312.5 789 311 788 307.5 781 302.5 775.5 299 770 288.5 760.5 287 760 283.5 755 282 754.5 276.5 750 275 749.5 271.5 744.5 268 743 264.5 739 261.5 736.5 256 734.5 252.5 731 249.5 729 244 723.5 241 723 230.5 715 225.5 713 222 711 218.5 708 215 707.5 211.5 704.5 208 703 205 700 203 700 199.5 698 198 698 193 696 187.5 692.5 184.5 692.5 181 689.5 175.5 689 165.5 684.5 163.5 685 160.5 684.5 157 687 152 688.5 145 694.5 136.5 708.5 133 715 129.5 723.5 124 741 119 761.5 117 782.5 116 800.5Z" fill="#66c2a5" fill-rule="evenodd"/>
<path d="M117.5 800.5 307.5 800.5 306.5 797.5 299 782 288.5 771 287 770.5 283.5 764.5 282 764.5 276.5 759.5 275 758.5 271.5 753 268 751.5 264.5 747 261.5 744.5 256 742 252.5 738 251 737.5 249.5 736.5 244 730 241 730 230.5 721 225.5 719 222 717 218.5 713.5 215 713 211.5 710 208 708 205 705.5 203 705 199.5 703 198 703 193 701 187.5 697 184.5 697 181 694 175.5 693 165.5 689 163.5 689.5 160.5 688.5 157 691 152 693 145 698.5 136.5 713 132.5 720.5 128 733.5 120.5 765 118.5 779.5 117.5 800.5Z" fill="#64c09b" fill-rule="evenodd"/>
<path d="M119 800.5 299 800.5 296.5 794.5 294 789 288.5 782.5 287 781.5 283.5 775 282 774.5 276.5 768.5 275 767.5 271.5 762 268 760 264.5 755 261.5 752 256 749.5 252.5 745.5 249.5 743.5 244 737 241 736.5 230.5 727 225.5 725 222 723 218.5 719.5 215 718.5 211.5 715 208 713.5 205 710.5 203 710.5 199.5 708 198 708 193 706 187.5 701.5 184.5 701.5 181 698.5 175.5 697.5 165.5 693 163.5 693.5 160.5 692.5 157 695.5 152 697 145 702.5 136.5 717.5 133 724.5 128 739 122 765 119.5 782.5 118.5 800.5Z" fill="#63bf92" fill-rule="evenodd"/>
<path d="M121 800.5 290.5 800.5 288.5 794.5 287 793 283.5 785 282 784 280 782.5 278.5 779.5 275 776 271.5 770 268 768 264.5 762.5 261.5 759.5 256 756.5 252.5 752.5 249.5 750 244 743.5 241 742.5 230.5 733 225.5 731 222 728.5 218.5 725 215 724 211.5 720.5 208 718.5 205 715.5 203 715.5 199.5 713 198 713 193 710.5 187.5 706.5 184.5 706.5 181 703.5 175.5 702.5 165.5 697.5 163.5 698 160.5 697 157 700 155 700.5 152 701 145 707 136.5 722 133 729 128 744 123 765 120.5 782.5 119.5 800.5Z" fill="#62be8a" fill-rule="evenodd"/>
<path d="M121 800.5 284.5 800.5 283.5 795.5 282 794 278.5 788 275 784.5 271.5 778 268 775 264.5 769.5 261.5 766.5 256 763 252.5 758.5 249.5 756 244 749.5 241 748.5 230.5 738.5 225.5 736.5 222 734 218.5 730 215 729.5 211.5 725.5 208 723.5 205 720.5 203 720.5 199.5 718 198 718 193 716 187.5 711 184.5 711.5 181 708 175.5 707 165.5 702 163.5 702.5 160.5 701.5 157 704.5 155 705.5 152 706 145 711 136.5 726.5 133 733.5 128 749 124 768 121.5 785.5 120.5 800.5Z" fill="#61be81" fill-rule="evenodd"/>
<path d="M122.5 800.5 278 800.5 271.5 786 268 783 264.5 777 261.5 773.5 256 770 252.5 765 251 764.5 249.5 762.5 244 755.5 241 754.5 230.5 744 225.5 742 222 739.5 218.5 735.5 217 735 215 735 211.5 731 208 729 205 725.5 203 725.5 199.5 723 198 723 193 721 187.5 716 184.5 716.5 181 713 177.5 712 175.5 712 165.5 706.5 163.5 707.5 160.5 706 157 709.5 155 710 152 710.5 145 715.5 136.5 731 133 738 128 754 124.5 770.5 122.5 785.5 121.5 800.5Z" fill="#60bd78" fill-rule="evenodd"/>
<path d="M122.5 800.5 272 800.5 271.5 797.5 268 794 264.5 785.5 261.5 781.5 259.5 781 258 779.5 256 778.5 254.5 775 252.5 773 251 772.5 249.5 770.5 244 762 242.5 762.5 241 762 230.5 750 229 749 227 749.5 225.5 748.5 222 746 218.5 741.5 217 741 215 741.5 211.5 737 208 734.5 206.5 732.5 205 731 203 731 201.5 730.5 199.5 728.5 198 729 193 726.5 187.5 721 184.5 722 181 718 177.5 717 175.5 717 165.5 711.5 163.5 712 160.5 711 157 714 155 715 152 715 145 720 136.5 735 133 742.5 128 758.5 125 773.5 123.5 785.5 122.5 800.5Z" fill="#5fbc70" fill-rule="evenodd"/>
<path d="M124.5 800.5 262 800.5 261.5 798 259.5 800 258 796.5 256 797 254.5 789.5 252.5 786.5 251 787 249.5 784.5 244 771.5 242.5 773 241 773.5 235.5 765 230.5 758.5 229 757.5 227 758.5 225.5 758 222 755 218.5 749 217 748.5 215 750 211.5 744 208 742 206.5 739 205 737.5 203 738 201.5 737 199.5 735 198 735.5 193 733 187.5 727 184.5 727.5 181 723.5 177.5 722.5 175.5 722.5 172.5 720 165.5 716.5 163.5 717 160.5 715.5 157 719 155 720 152 720 145 724.5 136.5 739.5 133 746.5 129 759 127 768 124 785.5 123.5 800.5Z" fill="#67bf72" fill-rule="evenodd"/>
<path d="M124.5 800.5 246 800.5 244 790 242.5 794 241 794 235.5 781 230.5 771.5 229 770.5 227 771.5 225.5 770.5 222 766.5 218.5 760 217 759.5 215 760 211.5 753.5 208 751 206.5 747.5 205 746 203 746 201.5 745 199.5 742.5 198 743 193 740 187.5 733 184.5 733.5 181 729 177.5 728 175.5 728 172.5 725 165.5 721 163.5 722 160.5 720 157 723.5 155 724.5 152 724.5 145 729 136.5 743.5 133 750.5 129.5 762 127 771 125 785.5 124 800.5Z" fill="#6fc173" fill-rule="evenodd"/>
<path d="M126 800.5 236 800.5 234.5 794.5 230.5 785 229 783 227 783 225.5 781.5 222 776.5 218.5 769.5 217 768.5 215 768.5 211.5 762 208 759 206.5 755.5 205 753.5 203 753.5 199.5 749.5 198 749.5 193 746 187.5 739 184.5 739 181 734.5 177.5 733 175.5 732.5 172.5 730 165.5 725.5 163.5 726.5 160.5 724.5 157 728 155 728.5 152 728.5 145 733 136.5 747.5 133 754.5 129.5 765 127.5 773.5 125.5 788.5 125 800.5Z" fill="#78c475" fill-rule="evenodd"/>
<path d="M126 800.5 231 800.5 229 794.5 227 793.5 225.5 791 218.5 777.5 217 776 215 775.5 211.5 769 208 765 206.5 762 205 760 203 759.5 199.5 755.5 198 755 193 751 187.5 744 184.5 744 181 739 177.5 737.5 175.5 737 172.5 734 165.5 730 163.5 730.5 160.5 728.5 157 732 155 732.5 152 732.5 145 737 136.5 751 133 758 128 776 126 788.5 125.5 800.5Z" fill="#85c977" fill-rule="evenodd"/>
<path d="M128 800.5 224 800.5 223.5 797.5 218.5 784.5 217 782.5 215 782 211.5 775 208 771 205 765.5 203 764.5 199.5 760.5 198 760 193 755.5 187.5 748.5 184.5 748 181 743.5 175.5 741 170.5 737 165.5 733.5 163.5 734 160.5 732.5 157 735.5 155 736 152 736.5 145 740.5 136.5 754 133 761.5 128.5 776.5 127 788.5 126 800.5Z" fill="#92ce7a" fill-rule="evenodd"/>
<path d="M128 800.5 221 800.5 218.5 791.5 217 789 215 788 211.5 780.5 205 770.5 203 769.5 199.5 765 198 764.5 193 759.5 187.5 753 184.5 752 181 747.5 175.5 745 172.5 742 165.5 737.5 163.5 737.5 160.5 736 157 739 155 739.5 152 739.5 145 744 136.5 757.5 133 764.5 129.5 776.5 128 785.5 127 800.5Z" fill="#a4d480" fill-rule="evenodd"/>
<path d="M128 800.5 218.5 800.5 217 796 215 794 211.5 785.5 206.5 777 199.5 769 198 768.5 193 763.5 187.5 756.5 184.5 755.5 181 751 175.5 748 172.5 745 165.5 740.5 163.5 741 160.5 739.5 157 742 155 743 152 743 145 747 136.5 760.5 133 768 129.5 779.5 128 791.5 127.5 800.5Z" fill="#b7db87" fill-rule="evenodd"/>
<path d="M129.5 800.5 214.5 800.5 211.5 790.5 206.5 781.5 199.5 773 198 772 193 767 187.5 760 184.5 758.5 181 754 175.5 751 172.5 748.5 165.5 744 163.5 744 160.5 742.5 157 745 155 745.5 152 746 145 750 143 752 136.5 763.5 133 771 130.5 779.5 129 788.5 128 800.5Z" fill="#cde38f" fill-rule="evenodd"/>
<path d="M129.5 800.5 212.5 800.5 211 794.5 205 782.5 203 781 199.5 776.5 193 770 187.5 763 184.5 761.5 181 757 175.5 754 170.5 750 165.5 746.5 163.5 747 160.5 745.5 157 748 152 748.5 145 752.5 143 754.5 136.5 766 133 774 131 782.5 129.5 791.5 129 800.5Z" fill="#e2eb97" fill-rule="evenodd"/>
<path d="M131 800.5 211 800.5 207.5 791.5 205 786 199.5 779.5 193 772.5 187.5 765.5 184.5 764 181 759.5 175.5 756.5 170.5 752.5 165.5 749 163.5 749.5 160.5 748 157 750.5 152 751 145 755.5 143 757.5 136.5 769 133 777.5 131.5 782.5 130 791.5 129.5 800.5Z" fill="#f7f19f" fill-rule="evenodd"/>
<path d="M131 800.5 208.5 800.5 207 794.5 205 789.5 199.5 782.5 193 775.5 187.5 768.5 184.5 766.5 181 762 175.5 759 170.5 755 165.5 751.5 163.5 751.5 160.5 750.5 157 752.5 152 753.5 145 757.5 143 759.5 136.5 771.5 133 781 131 791.5 130.5 800.5Z" fill="#fde798" fill-rule="evenodd"/>
<path d="M133 800.5 207 800.5 206.5 797 205 793 199.5 785.5 193 778 187.5 771 184.5 769 181 764.5 175.5 761.5 170.5 757 165.5 754 163.5 754 160.5 752.5 157 755 152 755.5 145 760 143 762 136.5 774.5 133.5 782.5 132 791.5 131.5 800.5Z" fill="#fccb7f" fill-rule="evenodd"/>
<path d="M133 800.5 205.5 800.5 205 797.5 199.5 788 193 780.5 187.5 773 184.5 771.5 181 767 175.5 763.5 170.5 759 165.5 756 163.5 756 160.5 754.5 157 757 152 758 145 762.5 143 764.5 135.5 779.5 133 789.5 132 800.5Z" fill="#fbad67" fill-rule="evenodd"/>
<path d="M133 800.5 203.5 800.5 199.5 791 193 783 187.5 775.5 184.5 774 181 769 175.5 766 170.5 761.5 165.5 758 163.5 758 160.5 756.5 157 759 152 760 145 764.5 143 767 136.5 781 133.5 791.5 133 800.5Z" fill="#f89c5e" fill-rule="evenodd"/>
<path d="M134.5 800.5 201.5 800.5 199.5 794.5 191 783.5 187.5 778 184.5 776 181 771.5 175.5 768 170.5 763.5 165.5 760 163.5 760.5 160.5 759 157 761.5 155 762 152 762.5 145 767 143 769.5 136.5 784.5 135 791.5 134 800.5Z" fill="#f68a55" fill-rule="evenodd"/>
<path d="M136.5 800.5 200 800.5 197 794.5 187.5 780.5 184.5 779 181 774 175.5 770.5 170.5 766 165.5 762.5 163.5 762.5 160.5 761 157 764 155 764.5 151.5 765 145 769.5 143 772 136.5 789 135 800.5Z" fill="#f4794c" fill-rule="evenodd"/>
<path d="M136.5 800.5 197.5 800.5 196.5 796.5 187.5 783 184.5 781.5 181 776.5 177.5 774 175.5 773.5 172.5 770 165.5 765 163.5 765.5 160.5 763.5 158.5 765 157 767 155 767.5 152 767.5 145 772.5 144 773.5 140 784 137.5 791.5 136 800.5Z" fill="#f26842" fill-rule="evenodd"/>
<path d="M138 800.5 195.5 800.5 187.5 786 184.5 785 181 779.5 177.5 777 175.5 777 172.5 773.5 165.5 768 163.5 768.5 160.5 766.5 158.5 768 157 770.5 155 771.5 152 770.5 146.5 775 145 775.5 143 778.5 139.5 788.5 137.5 800.5Z" fill="#f15638" fill-rule="evenodd"/>
<path d="M140 800.5 193 800.5 187.5 789 184.5 788.5 181 782.5 177.5 781 175.5 781 172.5 777 165.5 771.5 163.5 772.5 160.5 770 158.5 772 157 775 155 776 152 774.5 148.5 776.5 146.5 778.5 145 779 143 782 140.5 791.5 139 800.5Z" fill="#f0472f" fill-rule="evenodd"/>
<path d="M141.5 800.5 190.5 800.5 187.5 793 184.5 793 181 786.5 177.5 785 175.5 785.5 172.5 782 165.5 776 163.5 777.5 160.5 774.5 158.5 777 157 781 155 782 152 779.5 148.5 781.5 146.5 783 145 783.5 142.5 788.5 141 800.5Z" fill="#ef3e2c" fill-rule="evenodd"/>
<path d="M143 800.5 184 800.5 181 791.5 177.5 790.5 175.5 791.5 172.5 787.5 169 785.5 165.5 781.5 163.5 783.5 162 782.5 160.5 780 158.5 783 157 788 155 789.5 152 785.5 148.5 787.5 146.5 789.5 145 789 143 793.5 142.5 800.5ZM186 800.5 188.5 800.5 187.5 798 186 799 185 800.5Z" fill="#ef3629" fill-rule="evenodd"/>
<path d="M148.5 800.5 153.5 800.5 152 795 148 800.5ZM158.5 800.5 174 800.5 172.5 796.5 170.5 794 169 793 165.5 788.5 163.5 791.5 162 790 160.5 786.5 158.5 791.5 157 800.5Z" fill="#ee2e26" fill-rule="evenodd"/>
</g>
<path d="M174.9 446V503.1M209.5 446V501.2M184.6 446V473.1M203.4 468V474.6M199.9 446V481.9M224 453.1V481M188.6 446V471.6M270.8 446.6V468.1M237 446V506.6M146.2 446V478.9M179.7 446V502.1M146.3 446V477.2M251.8 446V489.1M149.8 448.8V462.8M271.4 446V486.3M228.6 446V511.2M253.2 455V467M217 447.3V512.1M193.5 446V477.9M229.1 446V493.1M268.7 446V465.2M159.1 446V476.2M194.3 467.5V465.4M208.2 446V514.8M250.1 446V463.9M274.1 447.3V492.5M204.8 446V505.8M265.8 446V501.9M188.9 446V468.4M262.1 446V504.1M238.3 446V501.9M194.6 452V469.3M193.3 446V508.4M251.7 447.6V475.4M157.1 450.3V493.1M251.9 446V501.7M153.8 446V498.4M253.3 470.7V493.9M221.5 462.3V493.1M150 446V480.8M205.7 446V489.7M271 458.4V493M224.5 446V508.5M174.4 446V482.1M193.5 459.6V490.5M163.5 446V473.7M234.3 446V497.8M217.3 446V503.2M222.5 446V500.6M224.6 452.1V483.4M191.2 450.1V465.1M182.2 446V480.6M227.2 446V474.6M210.7 458.7V503.2M229.4 465.3V520.9M161.6 446V499.8M244.9 466.3V470.9M166.1 446V478.9M166.9 446V493.7M224 446V520.8M190 446V503.5M157.2 457V469.7M172.4 455.3V500.6M256 446V488.9M238.8 446V478.5M238 446V507.6M268 446V471.5M220.3 446V523.1M231.3 446V491.5M247 449.4V472.2" stroke="#0b4a96" stroke-opacity="0.33" stroke-width="1" fill="none"/>
<path d="M91.2 563.4V799M84.5 559.8V799M82.7 569.3V799M93.3 570.1V799M88 532.5V799M85.5 536.8V799M82.2 607.7V799M91.9 604.7V799M83.4 562.9V799M94.7 569V799M94.9 616.5V799M81.6 569V799M90 561.4V799M87 562V799" stroke="#0b4890" stroke-opacity="0.4" stroke-width="1.2" fill="none"/>
<path d="M85.7 542.6V765.8M98 543.8V777.3M90.7 542V706.2M90.4 550.5V726.6M86.4 637.1V742.3M86.6 633.8V787" stroke="#3a9ad0" stroke-opacity="0.35" stroke-width="1" fill="none"/>
<rect x="80" y="445.5" width="371" height="355" fill="none" stroke="#111" stroke-width="1.4"/>
<path d="M108.4 800.5v7M165.4 800.5v7M222.5 800.5v7M279.6 800.5v7M336.6 800.5v7M393.6 800.5v7M450.7 800.5v7M79.9 800.5v3.6M136.9 800.5v3.6M194 800.5v3.6M251 800.5v3.6M308.1 800.5v3.6M365.1 800.5v3.6M422.2 800.5v3.6" stroke="#111" stroke-width="1.5" fill="none"/>
<path d="M80 800.3h-7.2M80 751.1h-7.2M80 701.8h-7.2M80 652.6h-7.2M80 603.4h-7.2M80 554.2h-7.2M80 504.9h-7.2M80 455.7h-7.2M80 775.7h-3.6M80 726.5h-3.6M80 677.2h-3.6M80 628h-3.6M80 578.8h-3.6M80 529.6h-3.6M80 480.3h-3.6" stroke="#111" stroke-width="1.5" fill="none"/>
<text transform="translate(108.4 827)" font-size="18.4" text-anchor="middle" fill="#111">600</text>
<text transform="translate(165.4 827)" font-size="18.4" text-anchor="middle" fill="#111">700</text>
<text transform="translate(222.5 827)" font-size="18.4" text-anchor="middle" fill="#111">800</text>
<text transform="translate(279.6 827)" font-size="18.4" text-anchor="middle" fill="#111">900</text>
<text transform="translate(336.6 827)" font-size="18.4" text-anchor="middle" fill="#111">1000</text>
<text transform="translate(393.6 827)" font-size="18.4" text-anchor="middle" fill="#111">1100</text>
<text transform="translate(450.7 827)" font-size="18.4" text-anchor="middle" fill="#111">1200</text>
<text transform="translate(67.9 806.1)" font-size="18.5" text-anchor="end" fill="#111">300</text>
<text transform="translate(67.9 756.9)" font-size="18.5" text-anchor="end" fill="#111">350</text>
<text transform="translate(67.9 707.6)" font-size="18.5" text-anchor="end" fill="#111">400</text>
<text transform="translate(67.9 658.4)" font-size="18.5" text-anchor="end" fill="#111">450</text>
<text transform="translate(67.9 609.2)" font-size="18.5" text-anchor="end" fill="#111">500</text>
<text transform="translate(67.9 560)" font-size="18.5" text-anchor="end" fill="#111">550</text>
<text transform="translate(67.9 510.7)" font-size="18.5" text-anchor="end" fill="#111">600</text>
<text transform="translate(67.9 461.5)" font-size="18.5" text-anchor="end" fill="#111">650</text>
<text transform="translate(265.6 859.5)" font-size="20.1" text-anchor="middle" fill="#111">Em Wavelength (nm)</text>
<text transform="translate(17.2 623) rotate(-90)" font-size="20.2" text-anchor="middle" fill="#111">Ex Wavelength (nm)</text>
<rect x="342.6" y="452.3" width="99.6" height="153.1" fill="#fff"/>
<rect x="354.5" y="464.5" width="35.7" height="129.4" fill="url(#cm)" stroke="#111" stroke-width="1"/>
<text transform="translate(402 474)" font-size="13.5" text-anchor="start" fill="#111">10</text>
<text transform="translate(402 496.6)" font-size="13.5" text-anchor="start" fill="#111">8</text>
<text transform="translate(402 519.4)" font-size="13.5" text-anchor="start" fill="#111">6</text>
<text transform="translate(402 541.9)" font-size="13.5" text-anchor="start" fill="#111">4</text>
<text transform="translate(402 564.5)" font-size="13.5" text-anchor="start" fill="#111">2</text>
<text transform="translate(402 587)" font-size="13.5" text-anchor="start" fill="#111">0</text>
<path d="M390.2 469.1h5.4M390.2 491.7h5.4M390.2 514.5h5.4M390.2 537h5.4M390.2 559.6h5.4M390.2 582.1h5.4" stroke="#111" stroke-width="1.3" fill="none"/>
<text transform="translate(425.5 523) rotate(90)" font-size="15.12" text-anchor="middle" fill="#111">&#215;10<tspan font-size="68%" dy="-0.5em">4</tspan></text>
<text transform="translate(494 436.4) scale(0.760 1)" font-size="33" text-anchor="start" fill="#231f20" stroke="#231f20" stroke-width="0.5">E</text>
<clipPath id="clipE"><rect x="549.5" y="444.8" width="373.4" height="358.4"/></clipPath>
<g clip-path="url(#clipE)">
<rect x="549.5" y="444.8" width="373.4" height="358.4" fill="#262869"/>
<path d="M585 804.5 846.5 804.5 842 772.5 833 732.5 827 708.5 811.5 660.5 808.5 648.5 806.5 632.5 806 620.5 807.5 612.5 819.5 580.5 822 569 821.5 561 820 553 814.5 533 812.5 529 807 521 800 513 792 505 778 494 761.5 483.5 745 474.5 715 462.5 701.5 458.5 688 457.5 678.5 458 668.5 461.5 658.5 467 645 477.5 635 488.5 626.5 501 620.5 513 614 529 612 541 610 573 610 584.5 612 612.5 611.5 624.5 593.5 732.5 587 780.5 584.5 804.5Z" fill="#263278" fill-rule="evenodd"/>
<path d="M595 804.5 826.5 804.5 823.5 784.5 819.5 764.5 806 716.5 788 661 785 648.5 781 628.5 780 620.5 781 612.5 783.5 604.5 791.5 584.5 794 577 794.5 573 794.5 565 793 557 789.5 545 786.5 537 782.5 529 773 517 765 509 755 501 745 495 708 475.5 698 472.5 688 471.5 678.5 472.5 671.5 475 665 479.5 651.5 491 642.5 501 636.5 509 631.5 517 626.5 529 625 537 623 549 621 573 621 584.5 623.5 612.5 623 624.5 603 724.5 596 768.5 592 804.5Z" fill="#24438e" fill-rule="evenodd"/>
<path d="M598.5 804.5 813.5 804.5 812 792.5 807.5 768.5 797.5 728.5 790 704.5 775 664.5 763.5 624.5 763 616.5 764.5 608.5 773 588.5 776.5 577 777 573 776.5 565 774.5 557 772 549 766.5 537 762 529 751.5 517 743 509 732 501 711.5 488.5 705 485.5 698 483.5 688 482 678.5 483.5 671.5 486.5 665 491 654 501 648 509 643 517 637.5 529 633.5 541 629.5 561 628.5 577 629 588.5 632.5 608.5 633 616.5 632.5 620.5 625 648.5 609.5 720.5 601 768.5 597 804.5Z" fill="#1c5198" fill-rule="evenodd"/>
<path d="M601.5 804.5 805 804.5 803 788.5 799.5 768.5 787 724.5 780 704.5 763.5 664.5 755.5 640.5 750.5 628.5 748 620.5 748 616.5 749.5 608.5 759 588.5 762 580.5 762.5 577 763 569 759.5 557 754 545 747.5 533 738 521 727 509 717.5 501 708 495.5 698 492 688 490.5 681.5 491 675 493 668.5 497 664 501 657 509 652 517 646 529 643.5 537 638 561 636.5 569 636 577 636.5 584.5 641 608.5 641.5 616.5 641 620.5 639 628.5 631.5 652.5 621.5 688.5 616 712.5 606 764.5 603 784.5 601 804.5Z" fill="#135fa3" fill-rule="evenodd"/>
<path d="M605 804.5 798.5 804.5 796.5 788.5 792.5 768.5 779.5 724.5 772 704.5 755.5 668.5 746 644.5 738.5 628.5 736 620.5 736 616.5 737.5 608.5 746.5 588.5 749.5 580.5 750 573 750 569 747.5 561 743 549 734.5 533 726 521 718 511.5 711.5 505.5 705 501.5 698 499.5 688 498 681.5 498.5 675 501 669 505 665 509 660 517 653.5 529 648 545 643.5 565 642.5 577 644 588.5 648 608.5 648 616.5 648 620.5 646 628.5 640.5 644.5 634.5 664.5 625 693.5 620 712.5 609.5 764.5 606.5 784.5 604 804.5Z" fill="#1674b1" fill-rule="evenodd"/>
<path d="M608.5 804.5 793 804.5 791 788.5 787 768.5 773 724.5 763 700.5 744.5 664.5 727.5 624.5 726.5 616.5 728 608.5 737.5 584.5 739.5 577 739 569 737 561 732.5 549 726.5 537 722 529 715 519 708.5 513 702.5 509 695 506 688 505 685 505.5 678.5 507 675 509 671.5 511.5 668.5 515 662.5 525 658.5 533 652 553 648.5 569 648 577 649.5 588.5 654 608.5 654.5 616.5 654 620.5 652 628.5 644.5 648.5 638.5 670.5 625 707.5 621.5 719.5 612.5 764.5 609.5 784.5 607 804.5Z" fill="#188abd" fill-rule="evenodd"/>
<path d="M611.5 804.5 788 804.5 786.5 792.5 781.5 768.5 767 724.5 758 704 738 667.5 720.5 624.5 719 616.5 720 608.5 729.5 584.5 731 577 730.5 569 727.5 557 720.5 541 716 533 711.5 527.5 705 521 701.5 518.5 695 515 688 514 685 514 678.5 516.5 671.5 522.5 668.5 526.5 664.5 533 661.5 541 657.5 553 654 569 653.5 577 654 584.5 659.5 608.5 660 616.5 659.5 620.5 657.5 628.5 649.5 648.5 642 672.5 628.5 710.5 624 724.5 621 736.5 614.5 768.5 610 804.5Z" fill="#1c9dc9" fill-rule="evenodd"/>
<path d="M615 804.5 783.5 804.5 781 788.5 776.5 768.5 763 728.5 754 708.5 738 680.5 732 668.5 722.5 644.5 715 628.5 712.5 620.5 712 616.5 713 608.5 721.5 588.5 723.5 580.5 724 573 724 569 721.5 560 719 553 715 545 708 535.5 705 532 698 527.5 691.5 525 688 524.5 685 525 678.5 527.5 675 530 671.5 534 668.5 539 665.5 545 661.5 557 659 569 658 577 658.5 580.5 659.5 588.5 665 608.5 666 616.5 665 620.5 662.5 628.5 654.5 648.5 648 668.5 630.5 716.5 625 733.5 617 768.5 613.5 792.5 612 804.5Z" fill="#1fb3d5" fill-rule="evenodd"/>
<path d="M615 804.5 779 804.5 776.5 788.5 772 768.5 758 729 750.5 712.5 728.5 672.5 724.5 664.5 715 640.5 706 624.5 704.5 620.5 703.5 616.5 703.5 612.5 707 604.5 715 589.5 717.5 580.5 718 573 716.5 565 711.5 553.5 705 544 698 538.5 691.5 535.5 688 535 685 535.5 681.5 536.5 678.5 538.5 675 541.5 671.5 546 668.5 552 665 561.5 662.5 573 663 580.5 665.5 592.5 672 608.5 673 612.5 673 616.5 670.5 624.5 665 634.5 660 644.5 652 668.5 637 708.5 630 728.5 620 764.5 616.5 784.5 614.5 804.5Z" fill="#37bddb" fill-rule="evenodd"/>
<path d="M618.5 804.5 775 804.5 772.5 788.5 768 768.5 758 740.5 751 724.5 743 708.5 725 675.5 721.5 668.5 713.5 648.5 709.5 640.5 705 634.5 698 628 691.5 623 688 622 685 622.5 678.5 627 675 630 668.5 638 663 648.5 655 671 641.5 704.5 633.5 728.5 622 768.5 618.5 788 616.5 804.5ZM681.5 605 685 607.5 688 608 691.5 607 695 604.5 701.5 598.5 705 594 710 584.5 711.5 577 711.5 573 710.5 569 707 561 705 557 701.5 553 696 549 691.5 546.5 688 546 685 546.5 681.5 548 678.5 550.5 675 554 671 561 668.5 569 667.5 573 667.5 577 668.5 584 671.5 592.5 674 596.5 678.5 602 681 604.5Z" fill="#56c4de" fill-rule="evenodd"/>
<path d="M621.5 804.5 771.5 804.5 769 788.5 764 768.5 753.5 740.5 746 724.5 725 684.5 710 652.5 705.5 644.5 701.5 639.5 698 637 691.5 633.5 688 633 685 633.5 678.5 636 675 638.5 671.5 642 668.5 647 645 703 637.5 724.5 625 767 621.5 782.5 618.5 804.5ZM685 593.5 688 594 691.5 593 695 591 698 588.5 701 584.5 703 580.5 703.5 577 703.5 573 702 569 698 564 695 561 691.5 559 688 558.5 685 559 681.5 561 678 565 675.5 569 674 573 673.5 577 674 580.5 676 584.5 678.5 588.5 681.5 591.5 683.5 592.5Z" fill="#67c8dc" fill-rule="evenodd"/>
<path d="M621.5 804.5 768 804.5 765 788.5 760.5 768.5 747 736.5 739.5 720.5 705 653.5 701.5 649 698 645.5 691.5 641.5 688 641 685 641.5 681.5 642.5 678.5 644.5 675 647 671.5 651.5 665 664.5 647.5 704.5 640 724.5 627.5 768.5 622.5 792.5 621 804.5Z" fill="#69c8d3" fill-rule="evenodd"/>
<path d="M625 804.5 764.5 804.5 761.5 788.5 756.5 768.5 743 736.5 734 716.5 715 680 705 663.5 701.5 658.5 695.5 652.5 691.5 650.5 688 649.5 685 649.5 679.5 652.5 675 657 671.5 661.5 661.5 679.5 648.5 708.5 641.5 728.5 630 768.5 626 788.5 623.5 804.5Z" fill="#6bc8cb" fill-rule="evenodd"/>
<path d="M628.5 804.5 761 804.5 758.5 788.5 753 768.5 735.5 728.5 726.5 708.5 715 686.5 705 671.5 701.5 667.5 695 661.5 691.5 659.5 688 658.5 685 659 681.5 660.5 678.5 662.5 671.5 669.5 665 679.5 653 704.5 644 728.5 633.5 764.5 629 784.5 626 804.5Z" fill="#6bc7c1" fill-rule="evenodd"/>
<path d="M628.5 804.5 758 804.5 755 788.5 749.5 768.5 730.5 724.5 721 704.5 711.5 687.5 705 678 701.5 674.5 695 669 691.5 667.5 688 667 685 667 681.5 668.5 678.5 670 671.5 676 665 685.5 656 704.5 646.5 728.5 635.5 764.5 630.5 788.5 628 804.5Z" fill="#69c5b8" fill-rule="evenodd"/>
<path d="M631.5 804.5 754.5 804.5 751.5 788.5 746 768.5 727.5 724.5 718 704.5 713.5 696.5 708 688 701.5 680.5 695 675.5 691.5 674 688 673.5 685 673.5 681.5 674.5 675 679 671.5 682 665 691.5 658.5 704.5 647.5 732.5 637.5 764.5 633 784.5 630 804.5Z" fill="#67c3ae" fill-rule="evenodd"/>
<path d="M635 804.5 751.5 804.5 749.5 792.5 743 768.5 726 728.5 717.5 708.5 713 700.5 708 693.5 701.5 686 695 681.5 691.5 680 688 679 685 679.5 678.5 682 671.5 687.5 665 696.5 659 708.5 649.5 732.5 639.5 764.5 634.5 788.5 632 804.5Z" fill="#66c2a5" fill-rule="evenodd"/>
<path d="M635 804.5 748.5 804.5 746.5 792.5 740 768.5 723.5 728.5 716.5 712.5 712 704.5 708 698.5 701.5 691 695 686.5 691.5 685 688 684.5 685 685 681.5 685.5 675 689.5 668.5 696.5 661.5 708.5 653.5 728.5 641.5 764.5 637 784.5 634 804.5Z" fill="#64c09b" fill-rule="evenodd"/>
<path d="M638.5 804.5 745.5 804.5 743.5 792.5 737 768.5 721 728.5 715 714.5 708 703.5 701.5 696 695 691.5 691.5 690 688 689.5 685 689.5 681.5 690.5 675 694.5 668.5 701.5 661.5 713 654 732.5 643 764.5 638.5 784.5 635.5 804.5Z" fill="#63bf92" fill-rule="evenodd"/>
<path d="M638.5 804.5 743 804.5 740 788.5 734.5 768.5 715 720 708 708 701.5 700.5 695 696 688 694 685 694.5 681.5 695 675 699 668.5 706 665 711.5 661.5 718 656 732.5 644 768.5 639.5 788.5 637.5 804.5Z" fill="#62be8a" fill-rule="evenodd"/>
<path d="M641.5 804.5 740.5 804.5 737.5 788.5 732 768.5 714.5 724.5 708 713 701.5 705 695 700.5 688 698.5 685 698.5 681.5 699.5 678.5 701 674 704.5 668.5 710.5 661.5 723 656.5 736.5 645.5 768.5 641.5 788.5 639 804.5Z" fill="#61be81" fill-rule="evenodd"/>
<path d="M641.5 804.5 738 804.5 736 792.5 730 768.5 714 728.5 708 717.5 701.5 709.5 695 704.5 691.5 703.5 688 702.5 685 703 681.5 704 675 707.5 671.5 711 668.5 715 663 724.5 658.5 736.5 647.5 768.5 643 788.5 640.5 804.5Z" fill="#60bd78" fill-rule="evenodd"/>
<path d="M645 804.5 736 804.5 733 788.5 727.5 768.5 715.5 736.5 711.5 728.5 707 720.5 701.5 714 695 709 691.5 707.5 688 707 685 707 681.5 708 675 712 671.5 715.5 668.5 720 665 725.5 660.5 736.5 649.5 768.5 644 792.5 642.5 804.5Z" fill="#5fbc70" fill-rule="evenodd"/>
<path d="M645 804.5 733.5 804.5 730.5 788.5 725.5 768.5 711.5 733.5 706.5 724.5 701.5 718 695 713 691.5 711.5 688 711 685 711 681.5 712 675 716.5 671.5 720 668.5 724.5 665 730.5 660.5 740.5 651 768.5 646.5 788.5 644 804.5Z" fill="#67bf72" fill-rule="evenodd"/>
<path d="M648.5 804.5 731.5 804.5 729.5 792.5 723.5 768.5 711.5 738.5 706 728.5 701.5 722.5 695 717 691.5 715.5 688 715 685 715 681.5 716.5 675 720.5 671.5 724 668.5 728.5 665 735 661.5 743 652.5 768.5 647 792.5 645.5 804.5Z" fill="#6fc173" fill-rule="evenodd"/>
<path d="M648.5 804.5 729.5 804.5 727 788.5 722 768.5 719 760.5 710 740.5 705 731 701.5 727 695 721.5 691.5 720 688 719 685 719.5 681.5 720.5 675 725 669 732.5 665 740 656.5 760.5 654 768.5 649.5 788.5 647 804.5Z" fill="#78c475" fill-rule="evenodd"/>
<path d="M651.5 804.5 728 804.5 726 792.5 720 768.5 717 760.5 711.5 748 705.5 736.5 701.5 731.5 695 725.5 691.5 724 688 723 685 723.5 681.5 724.5 675 729 669.5 736.5 665 744.5 658.5 760.5 655.5 768.5 650.5 792.5 648.5 804.5Z" fill="#85c977" fill-rule="evenodd"/>
<path d="M651.5 804.5 726 804.5 724 792.5 720.5 776.5 718.5 768.5 715 759.5 708 746 701.5 735.5 695 730 691.5 728 688 727.5 685 727.5 681.5 728.5 675 733.5 669.5 740.5 665 749 660 760.5 657 768.5 652.5 788.5 650 804.5Z" fill="#92ce7a" fill-rule="evenodd"/>
<path d="M651.5 804.5 724.5 804.5 722.5 792.5 719 776.5 716.5 768.5 713.5 760.5 708 750.5 701.5 740 698 736.5 695 734 691.5 732 688 731.5 685 731.5 681.5 733 675 738 671.5 742 665 753 660 764.5 657.5 772.5 653 792.5 651.5 804.5Z" fill="#a4d480" fill-rule="evenodd"/>
<path d="M655 804.5 723 804.5 721 792.5 717.5 776.5 715 768.5 711.5 760.5 705 749 698 741 695 738 691.5 736.5 688 735.5 685 736 681.5 737 675 742 671.5 746 665 757 661.5 764.5 658.5 775 654.5 792.5 653 804.5Z" fill="#b7db87" fill-rule="evenodd"/>
<path d="M655 804.5 721 804.5 720 796.5 716.5 780.5 714.5 772.5 711.5 764.5 705 753 698 745 695 742.5 691.5 740.5 688 739.5 685 740 681.5 741 678.5 743.5 671.5 750.5 665 760.5 661.5 768.5 659.5 776.5 656 792.5 654 804.5Z" fill="#cde38f" fill-rule="evenodd"/>
<path d="M658.5 804.5 720 804.5 718.5 796.5 715 780.5 712.5 772.5 709.5 764.5 705 757 698 749.5 691.5 744.5 688 744 685 744 681.5 745.5 675 750.5 668.5 758.5 665 764.5 662 772.5 660 780.5 656.5 796.5 655.5 804.5Z" fill="#e2eb97" fill-rule="evenodd"/>
<path d="M658.5 804.5 718.5 804.5 717 796.5 713.5 780.5 711 772.5 707.5 764.5 705 760.5 698 753 691.5 749 688 748 685 748 681.5 749.5 678.5 751.5 671.5 757.5 668.5 762 665 769 661.5 779.5 658.5 794 657 804.5Z" fill="#f7f19f" fill-rule="evenodd"/>
<path d="M658.5 804.5 717 804.5 715 793 711.5 780 708 770.5 705 764.5 701.5 759.5 698 756.5 691.5 752.5 688 751.5 685 752 678.5 755 671.5 761 668.5 766 665 774 662 784.5 659 796.5 658 804.5Z" fill="#fde798" fill-rule="evenodd"/>
<path d="M661.5 804.5 715.5 804.5 714 796.5 711.5 786.5 708 776 705 768 701.5 763 698 760 691.5 756 688 755 685 755 678.5 758 675 761 671.5 764.5 669.5 768.5 666 776.5 663.5 784.5 660.5 796.5 659.5 804.5Z" fill="#fccb7f" fill-rule="evenodd"/>
<path d="M661.5 804.5 713.5 804.5 712.5 796.5 710.5 788.5 704.5 772.5 701.5 767 698 763.5 694.5 760.5 691.5 759 688 758.5 685 758.5 681.5 759.5 678.5 761.5 675 764.5 671.5 768.5 668.5 775.5 665 785 662 796.5 661 804.5Z" fill="#fbad67" fill-rule="evenodd"/>
<path d="M665 804.5 712 804.5 710.5 796.5 708 787.5 705 778 702 772.5 698 767 695 764.5 691.5 762.5 688 761.5 685 761.5 681.5 763 678.5 765 675 768.5 671.5 773.5 668.5 780.5 665 791 662.5 804.5Z" fill="#f89c5e" fill-rule="evenodd"/>
<path d="M665 804.5 710.5 804.5 708 792.5 705 784 701.5 776.5 698 771.5 695 768 691.5 766 688 765 685 765 681.5 766.5 678.5 769 675 773 671.5 778.5 668.5 786.5 665 796.5 664 804.5Z" fill="#f68a55" fill-rule="evenodd"/>
<path d="M668.5 804.5 708.5 804.5 706 792.5 700.5 780.5 698 776 695 772.5 691.5 770 688 769 685 769 681.5 770.5 678.5 773.5 675 778 671.5 784 668.5 792 665.5 804.5Z" fill="#f4794c" fill-rule="evenodd"/>
<path d="M668.5 804.5 706.5 804.5 705 796.5 703.5 792.5 701.5 787.5 698 781.5 694 776.5 691.5 774.5 688 773 685 773.5 681.5 775.5 678.5 778.5 675 783 670.5 792.5 668.5 799 667.5 804.5Z" fill="#f26842" fill-rule="evenodd"/>
<path d="M671.5 804.5 705 804.5 702.5 796.5 698 787 695 782.5 692.5 780.5 688 778 685 778.5 681.5 780.5 678.5 783.5 675 788.5 671.5 795.5 669 804.5Z" fill="#f15638" fill-rule="evenodd"/>
<path d="M671.5 804.5 702.5 804.5 701.5 800 698 792.5 695 788 691.5 784.5 688 783 685 783.5 681.5 785.5 678.5 789 674 796.5 671.5 804.5Z" fill="#f0472f" fill-rule="evenodd"/>
<path d="M675 804.5 700 804.5 698 799 695 793.5 691.5 790 688 788.5 685 789 680.5 792.5 677.5 796.5 675.5 800.5 674.5 804.5Z" fill="#ef3e2c" fill-rule="evenodd"/>
<path d="M678.5 804.5 696.5 804.5 695 800 692 796.5 688 794 685 794.5 681.5 797 679.5 800.5 677.5 804.5Z" fill="#ef3629" fill-rule="evenodd"/>
<path d="M685 804.5 691.5 804.5 688 801 685 801.5 683 804.5Z" fill="#ee2e26" fill-rule="evenodd"/>
</g>
<rect x="549.5" y="444.8" width="373.4" height="358.4" fill="none" stroke="#111" stroke-width="1.4"/>
<path d="M590.1 803.2v7M673.3 803.2v7M756.4 803.2v7M839.6 803.2v7M922.8 803.2v7M548.5 803.2v3.6M631.7 803.2v3.6M714.9 803.2v3.6M798 803.2v3.6M881.2 803.2v3.6" stroke="#111" stroke-width="1.5" fill="none"/>
<path d="M549.5 803.3h-7.2M549.5 753.4h-7.2M549.5 703.5h-7.2M549.5 653.6h-7.2M549.5 603.7h-7.2M549.5 553.8h-7.2M549.5 503.9h-7.2M549.5 454h-7.2M549.5 778.3h-3.6M549.5 728.4h-3.6M549.5 678.5h-3.6M549.5 628.6h-3.6M549.5 578.8h-3.6M549.5 528.8h-3.6M549.5 478.9h-3.6" stroke="#111" stroke-width="1.5" fill="none"/>
<text transform="translate(590.1 829.5)" font-size="18.4" text-anchor="middle" fill="#111">600</text>
<text transform="translate(673.3 829.5)" font-size="18.4" text-anchor="middle" fill="#111">700</text>
<text transform="translate(756.4 829.5)" font-size="18.4" text-anchor="middle" fill="#111">800</text>
<text transform="translate(839.6 829.5)" font-size="18.4" text-anchor="middle" fill="#111">900</text>
<text transform="translate(922.8 829.5)" font-size="18.4" text-anchor="middle" fill="#111">1000</text>
<text transform="translate(536.3 809.3)" font-size="18.4" text-anchor="end" fill="#111">300</text>
<text transform="translate(536.3 759.4)" font-size="18.4" text-anchor="end" fill="#111">350</text>
<text transform="translate(536.3 709.5)" font-size="18.4" text-anchor="end" fill="#111">400</text>
<text transform="translate(536.3 659.6)" font-size="18.4" text-anchor="end" fill="#111">450</text>
<text transform="translate(536.3 609.7)" font-size="18.4" text-anchor="end" fill="#111">500</text>
<text transform="translate(536.3 559.8)" font-size="18.4" text-anchor="end" fill="#111">550</text>
<text transform="translate(536.3 509.9)" font-size="18.4" text-anchor="end" fill="#111">600</text>
<text transform="translate(536.3 460)" font-size="18.4" text-anchor="end" fill="#111">650</text>
<text transform="translate(746 863.4) scale(1.016 1)" font-size="20.1" text-anchor="middle" fill="#111">Em Wavelength (nm)</text>
<text transform="translate(483.8 624) rotate(-90)" font-size="20.4" text-anchor="middle" fill="#111">Ex Wavelength (nm)</text>
<rect x="804.9" y="452.3" width="108.6" height="156.1" fill="#fff"/>
<rect x="817.1" y="464.5" width="35.6" height="132.4" fill="url(#cm)" stroke="#111" stroke-width="1"/>
<text transform="translate(865.4 474)" font-size="13.6" text-anchor="start" fill="#111">180</text>
<text transform="translate(865.4 495.2)" font-size="13.6" text-anchor="start" fill="#111">150</text>
<text transform="translate(865.4 516.1)" font-size="13.6" text-anchor="start" fill="#111">120</text>
<text transform="translate(865.4 537.3)" font-size="13.6" text-anchor="start" fill="#111">90</text>
<text transform="translate(865.4 558.5)" font-size="13.6" text-anchor="start" fill="#111">60</text>
<text transform="translate(865.4 579.9)" font-size="13.6" text-anchor="start" fill="#111">30</text>
<text transform="translate(865.4 600.8)" font-size="13.6" text-anchor="start" fill="#111">0</text>
<path d="M852.7 469.1h5.8M852.7 490.3h5.8M852.7 511.2h5.8M852.7 532.4h5.8M852.7 553.6h5.8M852.7 575h5.8M852.7 595.9h5.8" stroke="#111" stroke-width="1.3" fill="none"/>
<text transform="translate(895 532.5) rotate(90)" font-size="15.23" text-anchor="middle" fill="#111">&#215;10<tspan font-size="68%" dy="-0.5em">4</tspan></text>
<text transform="translate(960.7 436.4) scale(0.760 1)" font-size="33" text-anchor="start" fill="#231f20" stroke="#231f20" stroke-width="0.5">F</text>
<clipPath id="clipF"><rect x="1004" y="473" width="380.5" height="308"/></clipPath>
<g clip-path="url(#clipF)">
<path d="M1035.7 481.5 1039.1 484.5 1042.6 487.6 1046 490.6 1049.5 493.7 1052.9 496.8 1056.4 499.8 1059.8 502.9 1063.2 505.9 1066.7 509 1070.1 512.1 1073.6 515.1 1077 518.2 1080.5 521.2 1083.9 524.3 1087.4 527.4 1090.8 530.4 1094.3 533.5 1097.7 536.5 1101.2 539.6 1104.6 542.7 1108.1 545.7 1111.5 548.8 1115 551.8 1118.4 554.9 1121.8 558 1125.3 561 1128.7 564.1 1132.2 567.2 1135.6 570.2 1139.1 573.3 1142.5 576.3 1146 579.4 1149.4 582.5 1152.9 585.5 1156.3 588.6 1159.8 591.6 1163.2 594.7 1166.7 597.8 1170.1 600.8" fill="none" stroke="#ed1c24" stroke-width="4.3" stroke-linejoin="round" stroke-linecap="round" stroke-linecap="butt"/>
<path d="M1035.7 481.9h0M1036.1 481.9h0M1036.5 482.3h0M1037 481.5h0M1037.4 482.6h0M1037.8 482.6h0M1038.2 484.3h0M1038.7 484.4h0M1039.1 484.1h0M1039.5 485.1h0M1039.9 486h0M1040.4 485.3h0M1040.8 487.1h0M1041.2 486.5h0M1041.7 486.4h0M1042.1 487h0M1042.5 487.9h0M1042.9 489h0M1043.4 489.3h0M1043.8 489.7h0M1044.2 488.5h0M1044.7 488.9h0M1045.1 489.6h0M1045.5 490.8h0M1045.9 490.1h0M1046.4 491.3h0M1046.8 490.9h0M1047.2 491.8h0M1047.6 491.5h0M1048.1 492.2h0M1048.5 492.6h0M1048.9 493.5h0M1049.4 492.3h0M1049.8 493.8h0M1050.2 494.4h0M1050.6 494.8h0M1051.1 494.7h0M1051.5 495.7h0M1051.9 495.3h0M1052.3 495.8h0M1052.8 496.3h0M1053.2 497.6h0M1053.6 497.7h0M1054.1 498.1h0M1054.5 497.8h0M1054.9 498.8h0M1055.3 498.2h0M1055.8 499.4h0M1056.2 500h0M1056.6 500.3h0M1057 500.8h0M1057.5 500.5h0M1057.9 501.1h0M1058.3 501.7h0M1058.8 501.9h0M1059.2 501.8h0M1059.6 502.7h0M1060 503.1h0M1060.5 502.7h0M1060.9 503.7h0M1061.3 503.1h0M1061.8 503.3h0M1062.2 505.1h0M1062.6 505.1h0M1063 505.6h0M1063.5 505.6h0M1063.9 506.4h0M1064.3 507.7h0M1064.7 507.5h0M1065.2 507.5h0M1065.6 507.7h0M1066 509h0M1066.5 508.1h0M1066.9 509.2h0M1067.3 509.8h0M1067.7 509.6h0M1068.2 509.9h0M1068.6 510.9h0M1069 512.3h0M1069.4 510.9h0M1069.9 511h0M1070.3 512.6h0M1070.7 513.4h0M1071.2 512.5h0M1071.6 512.7h0M1072 514.1h0M1072.4 515.6h0M1072.9 514h0M1073.3 514.5h0M1073.7 514h0M1074.1 514.5h0M1074.6 516.9h0M1075 515.6h0M1075.4 516h0M1075.9 517h0M1076.3 517.1h0M1076.7 516.5h0M1077.1 518.9h0M1077.6 518.6h0M1078 519.3h0M1078.4 519.4h0M1078.9 519.9h0M1079.3 520.2h0M1079.7 519.3h0M1080.1 520.2h0M1080.6 519.5h0M1081 521.4h0M1081.4 522.1h0M1081.8 522.8h0M1082.3 523.3h0M1082.7 523.5h0M1083.1 522.5h0M1083.6 523.9h0M1084 524.3h0M1084.4 523.6h0M1084.8 525.6h0M1085.3 524.3h0M1085.7 526.2h0M1086.1 525.6h0M1086.5 525.8h0M1087 526.9h0M1087.4 527.8h0M1087.8 528.5h0M1088.3 527.3h0M1088.7 529h0M1089.1 530.6h0M1089.5 529h0M1090 532.6h0M1090.4 529.5h0M1090.8 531.7h0M1091.2 531.4h0M1091.7 530.6h0M1092.1 531.3h0M1092.5 533.8h0M1093 531.3h0M1093.4 532.9h0M1093.8 534.8h0M1094.2 531.7h0M1094.7 536.6h0M1095.1 533.2h0M1095.5 533.6h0M1096 535h0M1096.4 534.9h0M1096.8 535.7h0M1097.2 535h0M1097.7 536h0M1098.1 537.4h0M1098.5 536.7h0M1098.9 538.1h0M1099.4 538.7h0M1099.8 540h0M1100.2 537h0M1100.7 536.3h0M1101.1 539.3h0M1101.5 539h0M1101.9 539.3h0M1102.4 539.7h0M1102.8 543h0M1103.2 541.2h0M1103.6 542.3h0M1104.1 543.3h0M1104.5 542h0M1104.9 542.5h0M1105.4 542.1h0M1105.8 545.3h0M1106.2 544.7h0M1106.6 545.3h0M1107.1 544.5h0M1107.5 544.1h0M1107.9 545.7h0M1108.3 547.3h0M1108.8 548h0M1109.2 543.2h0M1109.6 546.5h0M1110.1 546.9h0M1110.5 546.9h0M1110.9 548.7h0M1111.3 548.6h0M1111.8 549.6h0M1112.2 548.6h0M1112.6 547.8h0M1113.1 548.2h0M1113.5 548.1h0M1113.9 550.5h0M1114.3 551.7h0M1114.8 551.7h0M1115.2 553.9h0M1115.6 555.5h0M1116 555.4h0M1116.5 555.2h0M1116.9 555.3h0M1117.3 557.6h0M1117.8 553.4h0M1118.2 550.7h0M1118.6 554.2h0M1119 554.3h0M1119.5 557.3h0M1119.9 555.1h0M1120.3 556.1h0M1120.7 557h0M1121.2 554.5h0M1121.6 554.3h0M1122 555.3h0M1122.5 558.7h0M1122.9 556.3h0M1123.3 558.1h0M1123.7 558.4h0M1124.2 562.9h0M1124.6 559.4h0M1125 558.8h0M1125.5 558.9h0M1125.9 563h0M1126.3 565.5h0M1126.7 563.4h0M1127.2 559h0M1127.6 562.2h0M1128 567.3h0M1128.4 563h0M1128.9 566.9h0M1129.3 561.5h0M1129.7 565.2h0M1130.2 564.2h0M1130.6 570h0M1131 568.3h0M1131.4 569.1h0M1131.9 566.3h0M1132.3 571.2h0M1132.7 569.3h0M1133.1 568.3h0M1133.6 569.6h0M1134 567.8h0M1134.4 569h0M1134.9 567h0M1135.3 573.4h0M1135.7 573.6h0M1136.1 569.3h0M1136.6 568.5h0M1137 568.3h0M1137.4 574.1h0M1137.8 573.7h0M1138.3 574h0M1138.7 573.3h0M1139.1 575.4h0M1139.6 574.4h0M1140 576.2h0M1140.4 569.9h0M1140.8 573.5h0M1141.3 570.3h0M1141.7 578.3h0M1142.1 576.8h0M1142.5 576h0M1143 576.8h0M1143.4 573.5h0M1143.8 575.3h0M1144.3 576.6h0M1144.7 575.1h0M1145.1 578.4h0M1145.5 581.9h0M1146 575.5h0M1146.4 582.5h0M1146.8 578.5h0M1147.3 576.3h0M1147.7 584.7h0M1148.1 582.5h0M1148.5 585.1h0M1149 581.5h0M1149.4 586.7h0M1149.8 584.4h0M1150.2 584.8h0M1150.7 579.3h0M1151.1 584.1h0M1151.5 581.2h0M1152 588.1h0M1152.4 582.1h0M1152.8 588.7h0M1153.2 589.5h0M1153.7 589.1h0M1154.1 587.3h0M1154.5 583.8h0M1154.9 584.3h0M1155.4 584.6h0M1155.8 589.7h0M1156.2 587.6h0M1156.7 586.1h0M1157.1 590.6h0M1157.5 589.9h0M1157.9 593.8h0M1158.4 589.4h0M1158.8 590.1h0M1159.2 594.5h0M1159.7 592.3h0M1160.1 589.9h0M1160.5 593.9h0M1160.9 593.8h0M1161.4 594.7h0M1161.8 591.1h0M1162.2 598.8h0M1162.6 596.1h0M1163.1 588.2h0M1163.5 592.4h0M1163.9 597.4h0M1164.4 589.9h0M1164.8 600h0M1165.2 596.7h0M1165.6 596.6h0M1166.1 597.2h0M1166.5 595.3h0M1166.9 600.6h0M1167.3 601.2h0M1167.8 592.7h0M1168.2 596.1h0M1168.6 599.1h0M1169.1 594.7h0M1169.5 598.2h0M1169.9 598.8h0M1170.3 598.5h0M1170.8 603h0M1171.2 598.9h0M1171.6 596.2h0M1172 599.6h0M1172.5 602.8h0M1172.9 604.7h0M1173.3 599.8h0M1173.8 602.5h0M1174.2 597.6h0M1174.6 606.9h0M1175 602.6h0M1175.5 605.3h0M1175.9 602.1h0M1176.3 602.2h0M1176.8 607.1h0M1177.2 612.6h0M1177.6 604.6h0M1178 612h0M1178.5 608.7h0M1178.9 608.3h0M1179.3 601.2h0M1179.7 602.1h0M1180.2 608.2h0M1180.6 612h0M1181 602.8h0M1181.5 610.6h0M1181.9 615h0M1182.3 609.5h0M1182.7 609.7h0M1183.2 611.8h0M1183.6 609.8h0M1184 609.5h0M1184.4 614.4h0M1184.9 624.4h0M1185.3 614.8h0M1185.7 610.3h0M1186.2 611.4h0M1186.6 612.1h0M1187 615h0M1187.4 617.4h0M1187.9 616.9h0M1188.3 613.5h0M1188.7 614.6h0M1189.1 614.2h0M1189.6 612.8h0M1190 611.8h0M1190.4 617.6h0M1190.9 616.2h0M1191.3 619.9h0M1191.7 608.9h0M1192.1 615.1h0M1192.6 619h0M1193 621.6h0M1193.4 620.1h0M1193.8 622.5h0M1194.3 619.8h0M1194.7 618.5h0M1195.1 622.2h0M1195.6 615.4h0M1196 626.2h0M1196.4 625.5h0M1196.8 622.2h0M1197.3 623.9h0M1197.7 624.1h0M1198.1 623.1h0M1198.6 626.2h0M1199 635.7h0M1199.4 618.1h0M1199.8 624.1h0M1200.3 626.9h0M1200.7 618.9h0M1201.1 629.9h0M1201.5 619.3h0M1202 628.1h0M1202.4 624.3h0M1202.8 628.7h0M1203.3 627.8h0M1203.7 632.6h0M1204.1 627.6h0M1204.5 630.5h0M1205 624.9h0M1205.4 630.4h0M1205.8 628.8h0M1206.2 635.4h0M1206.7 627.6h0M1207.1 632.8h0M1207.5 633.6h0M1208 632h0M1208.4 627.8h0M1208.8 636.3h0M1209.2 630.2h0M1209.7 631.1h0M1210.1 634.5h0M1210.5 638.4h0M1211 638.8h0M1211.4 636.9h0M1211.8 636.3h0M1212.2 640.1h0M1212.7 631.6h0M1213.1 635.6h0M1213.5 635.6h0M1213.9 644h0M1214.4 635.9h0M1214.8 641.2h0M1215.2 639.7h0M1215.7 641h0M1216.1 636.2h0M1216.5 637h0M1216.9 645.4h0M1217.4 642h0M1217.8 642.9h0M1218.2 644h0M1218.6 650.2h0M1219.1 635.5h0M1219.5 643.2h0M1219.9 642h0M1220.4 632.7h0M1220.8 644h0M1221.2 651.7h0M1221.6 650h0M1222.1 651.1h0M1222.5 647.1h0M1222.9 640.2h0M1223.3 641.7h0M1223.8 640.6h0M1224.2 641.6h0M1224.6 639.2h0M1225.1 648.2h0M1225.5 657.2h0M1225.9 646.8h0M1226.3 646.4h0M1226.8 652.1h0M1227.2 644.5h0M1227.6 648.1h0M1228.1 650.7h0M1228.5 657.5h0M1228.9 652.7h0M1229.3 645.4h0M1229.8 644.8h0M1230.2 645.5h0M1230.6 650.2h0M1231 655.1h0M1231.5 651.6h0M1231.9 649.4h0M1232.3 647.8h0M1232.8 659h0M1233.2 654.1h0M1233.6 650h0M1234 652.4h0M1234.5 652.3h0M1234.9 665.6h0M1235.3 649.1h0M1235.7 652.4h0M1236.2 657.9h0M1236.6 669.9h0M1237 641.3h0M1237.5 655h0M1237.9 662.5h0M1238.3 653.7h0M1238.7 649.5h0M1239.2 665.2h0M1239.6 669.3h0M1240 662.4h0M1240.4 657.4h0M1240.9 663.3h0M1241.3 660.2h0M1241.7 675.9h0M1242.2 663.1h0M1242.6 663.9h0M1243 659h0M1243.4 676.6h0M1243.9 651.3h0M1244.3 666.8h0M1244.7 676.9h0M1245.2 670.2h0M1245.6 671.6h0M1246 662h0M1246.4 670h0M1246.9 664.4h0M1247.3 668.3h0M1247.7 665.3h0M1248.1 664.8h0M1248.6 682.7h0M1249 649.9h0M1249.4 680.1h0M1249.9 669.2h0M1250.3 676.4h0M1250.7 664.9h0M1251.1 666.4h0M1251.6 666.8h0M1252 663.9h0M1252.4 666.7h0M1252.8 663.3h0M1253.3 671.1h0M1253.7 672.8h0M1254.1 661.4h0M1254.6 668.1h0M1255 662.2h0M1255.4 665.1h0M1255.8 666.4h0M1256.3 662.2h0M1256.7 683.1h0M1257.1 673.1h0M1257.5 665.9h0M1258 669.4h0M1258.4 669.4h0M1258.8 671.4h0M1259.3 683.4h0M1259.7 674.4h0M1260.1 658.4h0M1260.5 661.6h0M1261 670.5h0M1261.4 667.4h0M1261.8 672.9h0M1262.2 672.9h0M1262.7 679h0M1263.1 671.7h0M1263.5 672.1h0M1264 663.8h0M1264.4 673.7h0M1264.8 677.7h0M1265.2 686.6h0M1265.7 672.3h0M1266.1 687.5h0M1266.5 679.7h0M1267 666.5h0M1267.4 680.8h0M1267.8 680.7h0M1268.2 682.1h0M1268.7 671.6h0M1269.1 673.7h0M1269.5 674h0M1269.9 683h0M1270.4 680.7h0M1270.8 675.7h0M1271.2 680h0M1271.7 666h0M1272.1 678.9h0M1272.5 682.4h0M1272.9 679.1h0M1273.4 684h0M1273.8 674.4h0M1274.2 695.6h0M1274.6 689.6h0M1275.1 692.9h0M1275.5 689.6h0M1275.9 675.5h0M1276.4 712.3h0M1276.8 696.8h0M1277.2 681.7h0M1277.6 674h0M1278.1 693.1h0M1278.5 690.4h0M1278.9 676.3h0M1279.4 688.1h0M1279.8 696h0M1280.2 673.5h0M1280.6 687.1h0M1281.1 684.8h0M1281.5 682.5h0M1281.9 699h0M1282.3 692.6h0M1282.8 695.7h0M1283.2 682.5h0M1283.6 682.5h0M1284.1 673h0M1284.5 680.4h0M1284.9 689.8h0M1285.3 678.4h0M1285.8 692.6h0M1286.2 699h0M1286.6 687.2h0M1287 695.7h0M1287.5 684.8h0M1287.9 702.7h0M1288.3 702.7h0M1288.8 702.7h0M1289.2 689.8h0M1289.6 692.6h0M1290 706.8h0M1290.5 692.6h0M1290.9 680.4h0M1291.3 706.8h0M1291.7 716.9h0M1292.2 699h0M1292.6 684.8h0M1293 699h0M1293.5 684.8h0M1293.9 689.8h0M1294.3 699h0M1294.7 706.8h0M1295.2 702.7h0M1295.6 687.2h0M1296 687.2h0M1296.5 702.7h0M1296.9 676.5h0M1297.3 695.7h0M1297.7 699h0M1298.2 711.5h0M1298.6 702.7h0M1299 711.5h0M1299.4 702.7h0M1299.9 682.5h0M1300.3 706.8h0M1300.7 689.8h0M1301.2 684.8h0M1301.6 699h0M1302 702.7h0M1302.4 711.5h0M1302.9 706.8h0M1303.3 692.6h0M1303.7 689.8h0M1304.1 711.5h0M1304.6 702.7h0M1305 692.6h0M1305.4 692.6h0M1305.9 699h0M1306.3 706.8h0M1306.7 699h0M1307.1 699h0M1307.6 706.8h0M1308 706.8h0M1308.4 695.7h0M1308.8 702.7h0M1309.3 692.6h0M1309.7 684.8h0M1310.1 723.3h0M1310.6 702.7h0M1311 706.8h0M1311.4 687.2h0M1311.8 706.8h0M1312.3 682.5h0M1312.7 695.7h0M1313.1 699h0M1313.6 706.8h0M1314 702.7h0M1314.4 706.8h0M1314.8 695.7h0M1315.3 702.7h0M1315.7 702.7h0M1316.1 684.8h0M1316.5 706.8h0M1317 706.8h0M1317.4 711.5h0M1317.8 702.7h0M1318.3 723.3h0M1318.7 723.3h0M1319.1 692.6h0M1319.5 723.3h0M1320 716.9h0M1320.4 702.7h0M1320.8 699h0M1321.2 695.7h0M1321.7 731.1h0M1322.1 699h0M1322.5 706.8h0M1323 711.5h0M1323.4 702.7h0M1323.8 723.3h0M1324.2 689.8h0M1324.7 706.8h0M1325.1 702.7h0M1325.5 711.5h0M1325.9 716.9h0M1326.4 716.9h0M1326.8 711.5h0M1327.2 695.7h0M1327.7 702.7h0M1328.1 716.9h0M1328.5 711.5h0M1328.9 731.1h0M1329.4 711.5h0M1329.8 716.9h0M1330.2 702.7h0M1330.7 706.8h0M1331.1 711.5h0M1331.5 723.3h0M1331.9 711.5h0M1332.4 755.3h0M1332.8 706.8h0M1333.2 684.8h0M1333.6 695.7h0M1334.1 692.6h0M1334.5 706.8h0M1334.9 716.9h0M1335.4 723.3h0M1335.8 716.9h0M1336.2 741.1h0M1336.6 741.1h0M1337.1 706.8h0M1337.5 716.9h0M1337.9 706.8h0M1338.3 706.8h0M1338.8 699h0M1339.2 711.5h0M1339.6 716.9h0M1340.1 692.6h0M1340.5 711.5h0M1340.9 716.9h0M1341.3 695.7h0M1341.8 731.1h0M1342.2 702.7h0M1342.6 716.9h0M1343 706.8h0M1343.5 716.9h0M1343.9 723.3h0M1344.3 711.5h0M1344.8 711.5h0M1345.2 779.6h0M1345.6 702.7h0M1346 755.3h0M1346.5 706.8h0M1346.9 706.8h0M1347.3 716.9h0M1347.8 731.1h0M1348.2 755.3h0M1348.6 706.8h0M1349 716.9h0M1349.5 711.5h0M1349.9 723.3h0M1350.3 699h0M1350.7 723.3h0M1351.2 741.1h0M1351.6 723.3h0M1352 706.8h0M1352.5 706.8h0M1352.9 723.3h0M1353.3 702.7h0M1353.7 716.9h0M1354.2 779.6h0M1354.6 741.1h0M1355 716.9h0M1355.4 706.8h0M1355.9 711.5h0M1356.3 741.1h0M1356.7 723.3h0M1357.2 702.7h0M1357.6 731.1h0M1358 779.6h0M1358.4 716.9h0M1358.9 699h0M1359.3 741.1h0M1359.7 716.9h0M1360.1 711.5h0M1360.6 755.3h0M1361 741.1h0M1361.4 716.9h0M1361.9 695.7h0M1362.3 755.3h0M1362.7 706.8h0M1363.1 716.9h0M1363.6 755.3h0M1364 731.1h0M1364.4 723.3h0M1364.9 741.1h0M1365.3 755.3h0M1365.7 723.3h0M1366.1 716.9h0M1366.6 731.1h0M1367 723.3h0M1367.4 716.9h0M1367.8 723.3h0M1368.3 723.3h0M1368.7 711.5h0M1369.1 723.3h0M1369.6 723.3h0M1370 731.1h0M1370.4 702.7h0M1370.8 706.8h0M1371.3 731.1h0M1371.7 723.3h0M1372.1 706.8h0M1372.5 741.1h0M1373 723.3h0M1373.4 702.7h0M1373.8 716.9h0M1374.3 711.5h0M1374.7 702.7h0M1375.1 723.3h0M1375.5 755.3h0M1376 711.5h0M1376.4 731.1h0M1376.8 723.3h0M1377.2 755.3h0M1377.7 731.1h0M1378.1 716.9h0M1378.5 779.6h0M1379 755.3h0M1379.4 706.8h0M1379.8 741.1h0M1380.2 699h0M1380.7 711.5h0M1381.1 779.6h0M1381.5 716.9h0M1382 716.9h0M1382.4 723.3h0M1382.8 741.1h0M1383.2 706.8h0M1383.7 716.9h0M1027.6 779.6h0M1028.1 755.3h0M1028.8 741.1h0M1029.5 731.1h0M1027.6 723.3h0M1030 741.1h0M1033.3 650.5h0M1033.8 594.1h0M1034.2 541.5h0M1034.7 505.7h0" stroke="#ed1c24" stroke-width="2.9" stroke-linecap="square" fill="none"/>
<path d="M1035.7 481.5 1037 485.5 1038.4 489.5 1039.8 493.5 1041.1 497.5 1042.5 501.5 1043.8 505.5 1045.2 509.5 1046.6 513.5 1047.9 517.5 1049.3 521.5 1050.6 525.5 1052 529.4 1053.3 533.4 1054.7 537.4 1056.1 541.4 1057.4 545.3 1058.8 549.3 1060.1 553.2 1061.5 557.2 1062.9 561.2 1064.2 565.1 1065.6 569.1 1066.9 573 1068.3 576.9 1069.7 580.9 1071 584.8 1072.4 588.7 1073.7 592.7 1075.1 596.6" fill="none" stroke="#3c4da6" stroke-width="3.9" stroke-linejoin="round" stroke-linecap="round" stroke-linecap="butt"/>
<path d="M1035.7 481.9h0M1035.9 482.1h0M1036.1 482h0M1036.2 482.8h0M1036.4 483.9h0M1036.6 483.9h0M1036.8 484.3h0M1037 485.2h0M1037.2 485.6h0M1037.4 485.8h0M1037.6 487.3h0M1037.8 487.8h0M1038 487.1h0M1038.1 488.8h0M1038.3 490.1h0M1038.5 490.4h0M1038.7 490.7h0M1038.9 490.6h0M1039.1 490.6h0M1039.3 492.7h0M1039.5 494.4h0M1039.7 493.4h0M1039.9 494.5h0M1040 494.3h0M1040.2 494h0M1040.4 495.4h0M1040.6 496.4h0M1040.8 496.4h0M1041 496.1h0M1041.2 497.9h0M1041.4 497.9h0M1041.6 499.5h0M1041.8 499.4h0M1041.9 499.7h0M1042.1 499.2h0M1042.3 500.6h0M1042.5 500.9h0M1042.7 501.8h0M1042.9 502.8h0M1043.1 503.1h0M1043.3 504.1h0M1043.5 503.3h0M1043.7 504.1h0M1043.8 505h0M1044 506.3h0M1044.2 507.9h0M1044.4 506.2h0M1044.6 507h0M1044.8 507.5h0M1045 508h0M1045.2 509.3h0M1045.4 509.7h0M1045.6 511.3h0M1045.7 510.5h0M1045.9 512.5h0M1046.1 513.8h0M1046.3 513.5h0M1046.5 513.1h0M1046.7 514.2h0M1046.9 515.9h0M1047.1 515.3h0M1047.3 516.6h0M1047.5 514h0M1047.6 516.2h0M1047.8 515.4h0M1048 516h0M1048.2 516.6h0M1048.4 518.5h0M1048.6 521.4h0M1048.8 519.5h0M1049 521.2h0M1049.2 520.2h0M1049.4 520.8h0M1049.5 524.6h0M1049.7 522.1h0M1049.9 523.3h0M1050.1 522h0M1050.3 526h0M1050.5 524.5h0M1050.7 524.3h0M1050.9 525.7h0M1051.1 527h0M1051.3 527.5h0M1051.4 528.4h0M1051.6 528.8h0M1051.8 529.1h0M1052 527.8h0M1052.2 530.6h0M1052.4 529.1h0M1052.6 529.5h0M1052.8 530h0M1053 531.7h0M1053.2 531.1h0M1053.3 531.8h0M1053.5 534h0M1053.7 535.5h0M1053.9 535.3h0M1054.1 535.3h0M1054.3 536.5h0M1054.5 537.8h0M1054.7 537.7h0M1054.9 538.6h0M1055.1 538.1h0M1055.2 538.4h0M1055.4 539.9h0M1055.6 539.4h0M1055.8 542.9h0M1056 538.1h0M1056.2 543.1h0M1056.4 539.9h0M1056.6 542.8h0M1056.8 540.1h0M1057 543.2h0M1057.1 543.7h0M1057.3 543.3h0M1057.5 546.5h0M1057.7 545h0M1057.9 548.4h0M1058.1 548.2h0M1058.3 547h0M1058.5 547.5h0M1058.7 547.2h0M1058.9 548.1h0M1059 550.3h0M1059.2 555h0M1059.4 550.6h0M1059.6 549.6h0M1059.8 551.6h0M1060 550.5h0M1060.2 552.3h0M1060.4 554.4h0M1060.6 555.6h0M1060.8 555.5h0M1060.9 554.9h0M1061.1 555.3h0M1061.3 558.1h0M1061.5 555.4h0M1061.7 557.7h0M1061.9 556h0M1062.1 560.1h0M1062.3 558.7h0M1062.5 562.5h0M1062.7 562.8h0M1062.8 561.3h0M1063 563.4h0M1063.2 565.5h0M1063.4 563.2h0M1063.6 563.5h0M1063.8 563.5h0M1064 563.5h0M1064.2 567.8h0M1064.4 563.1h0M1064.6 563.8h0M1064.7 561.8h0M1064.9 570.4h0M1065.1 566.7h0M1065.3 571h0M1065.5 569.3h0M1065.7 566.8h0M1065.9 566.7h0M1066.1 570h0M1066.3 571.2h0M1066.5 569.2h0M1066.6 573h0M1066.8 574.4h0M1067 573h0M1067.2 571.2h0M1067.4 577.1h0M1067.6 574.2h0M1067.8 578.1h0M1068 571.6h0M1068.2 575.1h0M1068.4 575.2h0M1068.5 574.6h0M1068.7 580.1h0M1068.9 576.9h0M1069.1 577.3h0M1069.3 578.9h0M1069.5 584.2h0M1069.7 580.3h0M1069.9 580.1h0M1070.1 579.8h0M1070.3 581.7h0M1070.4 578.2h0M1070.6 581.6h0M1070.8 581.7h0M1071 582.9h0M1071.2 581.4h0M1071.4 587.1h0M1071.6 591.2h0M1071.8 585.6h0M1072 593.2h0M1072.2 585.8h0M1072.3 583.1h0M1072.5 586.7h0M1072.7 586.7h0M1072.9 588.4h0M1073.1 586.9h0M1073.3 590.7h0M1073.5 595.3h0M1073.7 594.2h0M1073.9 590.5h0M1074.1 596.1h0M1074.2 601.8h0M1074.4 594.2h0M1074.6 591.2h0M1074.8 595.3h0M1075 592.2h0M1075.2 596.1h0M1075.4 597.5h0M1075.6 602.8h0M1075.8 599.6h0M1076 592.7h0M1076.1 599.3h0M1076.3 598.7h0M1076.5 592.2h0M1076.7 602.8h0M1076.9 604.2h0M1077.1 607.1h0M1077.3 604.2h0M1077.5 603.9h0M1077.7 598.7h0M1077.9 599.9h0M1078 599.9h0M1078.2 604.2h0M1078.4 606.7h0M1078.6 605.6h0M1078.8 605.3h0M1079 609.5h0M1079.2 612h0M1079.4 609.1h0M1079.6 609.9h0M1079.8 612.9h0M1079.9 608.3h0M1080.1 606.4h0M1080.3 611.6h0M1080.5 613.8h0M1080.7 612.9h0M1080.9 612h0M1081.1 604.9h0M1081.3 619.3h0M1081.5 611.2h0M1081.7 610.3h0M1081.8 617.7h0M1082 616.2h0M1082.2 620.4h0M1082.4 613.8h0M1082.6 611.6h0M1082.8 616.7h0M1083 622.7h0M1083.2 616.7h0M1083.4 615.2h0M1083.6 621.5h0M1083.7 621.5h0M1083.9 625.1h0M1084.1 624.5h0M1084.3 625.8h0M1084.5 622.7h0M1084.7 632.2h0M1084.9 620.4h0M1085.1 618.8h0M1085.3 623.9h0M1085.5 619.8h0M1085.6 620.9h0M1085.8 625.8h0M1086 627.1h0M1086.2 628.5h0M1086.4 617.7h0M1086.6 629.2h0M1086.8 624.5h0M1087 625.8h0M1087.2 632.2h0M1087.4 625.8h0M1087.5 630.6h0M1087.7 629.2h0M1087.9 635.4h0M1088.1 645.2h0M1088.3 638.1h0M1088.5 638.1h0M1088.7 634.6h0M1088.9 630.6h0M1089.1 635.4h0M1089.3 643h0M1089.4 636.3h0M1089.6 630.6h0M1089.8 635.4h0M1090 633.7h0M1090.2 644.1h0M1090.4 639h0M1090.6 641h0M1090.8 646.4h0M1091 641h0M1091.2 636.3h0M1091.3 644.1h0M1091.5 645.2h0M1091.7 650h0M1091.9 651.4h0M1092.1 639h0M1092.3 651.4h0M1092.5 638.1h0M1092.7 647.5h0M1092.9 654.2h0M1093.1 648.8h0M1093.2 644.1h0M1093.4 652.7h0M1093.6 651.4h0M1093.8 647.5h0M1094 650h0M1094.2 648.8h0M1094.4 651.4h0M1094.6 650h0M1094.8 645.2h0M1095 645.2h0M1095.1 644.1h0M1095.3 637.2h0M1095.5 651.4h0M1095.7 652.7h0M1095.9 657.2h0M1096.1 655.7h0M1096.3 646.4h0M1096.5 657.2h0M1096.7 658.8h0M1096.9 660.5h0M1097 645.2h0M1097.2 666.2h0M1097.4 652.7h0M1097.6 655.7h0M1097.8 655.7h0M1098 657.2h0M1098.2 648.8h0M1098.4 654.2h0M1098.6 657.2h0M1098.8 666.2h0M1098.9 660.5h0M1099.1 645.2h0M1099.3 657.2h0M1099.5 664.2h0M1099.7 660.5h0M1099.9 655.7h0M1100.1 654.2h0M1100.3 662.3h0M1100.5 660.5h0M1100.7 658.8h0M1100.8 664.2h0M1101 662.3h0M1101.2 678.4h0M1101.4 673h0M1101.6 660.5h0M1101.8 670.6h0M1102 658.8h0M1102.2 664.2h0M1102.4 664.2h0M1102.6 673h0M1102.7 666.2h0M1102.9 670.6h0M1103.1 662.3h0M1103.3 668.4h0M1103.5 658.8h0M1103.7 675.6h0M1103.9 668.4h0M1104.1 657.2h0M1104.3 660.5h0M1104.5 670.6h0M1104.6 688.5h0M1104.8 675.6h0M1105 670.6h0M1105.2 673h0M1105.4 675.6h0M1105.6 673h0M1105.8 678.4h0M1106 670.6h0M1106.2 684.8h0M1106.4 675.6h0M1106.5 673h0M1106.7 688.5h0M1106.9 675.6h0M1107.1 688.5h0M1107.3 692.6h0M1107.5 697.3h0M1107.7 684.8h0M1107.9 688.5h0M1108.1 668.4h0M1108.3 678.4h0M1108.4 681.5h0M1108.6 670.6h0M1108.8 702.7h0M1109 684.8h0M1109.2 684.8h0M1109.4 678.4h0M1109.6 675.6h0M1109.8 709.1h0M1110 675.6h0M1110.2 668.4h0M1110.3 678.4h0M1110.5 681.5h0M1110.7 688.5h0M1110.9 697.3h0M1111.1 697.3h0M1111.3 727h0M1111.5 688.5h0M1111.7 673h0M1111.9 684.8h0M1112.1 697.3h0M1112.2 692.6h0M1112.4 681.5h0M1112.6 681.5h0M1112.8 697.3h0M1113 675.6h0M1113.2 681.5h0M1113.4 684.8h0M1113.6 702.7h0M1113.8 684.8h0M1114 688.5h0M1114.1 692.6h0M1114.3 678.4h0M1114.5 716.9h0M1114.7 697.3h0M1114.9 716.9h0M1115.1 697.3h0M1115.3 684.8h0M1115.5 673h0M1115.7 688.5h0M1115.9 709.1h0M1116 684.8h0M1116.2 702.7h0M1116.4 688.5h0M1116.6 697.3h0M1116.8 692.6h0M1117 684.8h0M1117.2 697.3h0M1117.4 675.6h0M1117.6 681.5h0M1117.8 716.9h0M1117.9 709.1h0M1118.1 684.8h0M1118.3 684.8h0M1118.5 684.8h0M1118.7 697.3h0M1118.9 697.3h0M1119.1 697.3h0M1119.3 727h0M1119.5 709.1h0M1119.7 709.1h0M1119.8 692.6h0M1120 727h0M1120.2 692.6h0M1120.4 716.9h0M1120.6 697.3h0M1120.8 702.7h0M1121 716.9h0M1121.2 702.7h0M1121.4 702.7h0M1121.6 697.3h0M1121.7 692.6h0M1121.9 684.8h0M1122.1 702.7h0M1122.3 692.6h0M1122.5 697.3h0M1122.7 727h0M1122.9 697.3h0M1123.1 702.7h0M1123.3 709.1h0M1123.5 716.9h0M1123.6 702.7h0M1123.8 709.1h0M1124 684.8h0M1124.2 688.5h0M1124.4 702.7h0M1124.6 692.6h0M1124.8 727h0M1125 709.1h0M1125.2 702.7h0M1125.4 709.1h0M1125.5 716.9h0M1125.7 702.7h0M1125.9 727h0M1126.1 709.1h0M1126.3 702.7h0M1126.5 702.7h0M1126.7 716.9h0M1126.9 697.3h0M1127.1 697.3h0M1127.3 688.5h0M1127.4 702.7h0M1127.6 727h0M1127.8 709.1h0M1128 716.9h0M1128.2 702.7h0M1128.4 709.1h0M1128.6 716.9h0M1128.8 709.1h0M1129 716.9h0M1129.2 709.1h0M1129.3 702.7h0M1129.5 716.9h0M1129.7 727h0M1129.9 727h0M1130.1 702.7h0M1130.3 702.7h0M1130.5 709.1h0M1130.7 741.1h0M1130.9 716.9h0M1131.1 716.9h0M1131.2 727h0M1131.4 727h0M1131.6 727h0M1131.8 709.1h0M1132 692.6h0M1132.2 709.1h0M1132.4 727h0M1132.6 716.9h0M1132.8 697.3h0M1133 709.1h0M1133.1 727h0M1133.3 702.7h0M1133.5 727h0M1133.7 709.1h0M1133.9 709.1h0M1134.1 727h0M1134.3 716.9h0M1134.5 702.7h0M1134.7 727h0M1134.9 727h0M1135 716.9h0M1135.2 727h0M1135.4 727h0M1135.6 716.9h0M1135.8 709.1h0M1136 709.1h0M1136.2 716.9h0M1136.4 727h0M1136.6 741.1h0M1136.8 709.1h0M1136.9 709.1h0M1137.1 727h0M1137.3 716.9h0M1137.5 727h0M1137.7 702.7h0M1137.9 709.1h0M1138.1 716.9h0M1138.3 727h0M1138.5 697.3h0M1138.7 709.1h0M1138.8 741.1h0M1139 727h0M1139.2 727h0M1139.4 727h0M1139.6 716.9h0M1139.8 709.1h0M1140 716.9h0M1140.2 716.9h0M1140.4 765.4h0M1140.6 727h0M1140.7 716.9h0M1140.9 727h0M1141.1 709.1h0M1141.3 716.9h0M1141.5 709.1h0M1141.7 741.1h0M1141.9 716.9h0M1142.1 702.7h0M1142.3 741.1h0M1142.5 741.1h0M1142.6 716.9h0M1142.8 709.1h0M1143 716.9h0M1143.2 716.9h0M1143.4 716.9h0M1143.6 709.1h0M1143.8 727h0M1144 727h0M1144.2 727h0M1144.4 716.9h0M1144.5 727h0M1144.7 702.7h0M1144.9 716.9h0M1145.1 727h0M1145.3 727h0M1145.5 716.9h0M1145.7 716.9h0M1145.9 741.1h0M1146.1 716.9h0M1146.3 741.1h0M1146.4 741.1h0M1146.6 727h0M1146.8 709.1h0M1147 741.1h0M1147.2 727h0M1147.4 709.1h0M1147.6 727h0M1147.8 741.1h0M1148 765.4h0M1148.2 727h0M1148.3 765.4h0M1148.5 709.1h0M1148.7 741.1h0M1148.9 709.1h0M1149.1 716.9h0M1149.3 727h0M1149.5 727h0M1149.7 716.9h0M1149.9 727h0M1150.1 727h0M1150.2 727h0M1150.4 741.1h0M1150.6 709.1h0M1150.8 727h0M1151 727h0M1151.2 709.1h0M1151.4 716.9h0M1151.6 709.1h0M1151.8 727h0M1152 727h0M1152.1 741.1h0M1152.3 716.9h0M1152.5 727h0M1152.7 727h0M1152.9 716.9h0M1153.1 727h0M1153.3 765.4h0M1153.5 709.1h0M1153.7 716.9h0M1153.9 716.9h0M1154 716.9h0M1154.2 741.1h0M1154.4 741.1h0M1154.6 716.9h0M1154.8 741.1h0M1155 741.1h0M1155.2 741.1h0M1155.4 741.1h0M1155.6 716.9h0M1155.8 727h0M1155.9 741.1h0M1156.1 727h0M1156.3 727h0M1156.5 727h0M1156.7 702.7h0M1156.9 741.1h0M1157.1 716.9h0M1157.3 709.1h0M1157.5 741.1h0M1157.7 741.1h0M1157.8 727h0M1158 709.1h0M1158.2 716.9h0M1158.4 741.1h0M1158.6 727h0M1158.8 727h0M1159 716.9h0M1159.2 741.1h0M1159.4 765.4h0M1159.6 741.1h0M1159.7 727h0M1159.9 727h0M1160.1 709.1h0M1160.3 709.1h0M1160.5 716.9h0M1160.7 727h0M1160.9 727h0M1161.1 727h0M1161.3 716.9h0M1161.5 741.1h0M1161.6 709.1h0M1161.8 709.1h0M1162 727h0M1162.2 716.9h0M1162.4 741.1h0M1162.6 727h0M1162.8 727h0M1163 702.7h0M1163.2 727h0M1163.4 716.9h0M1163.5 716.9h0M1163.7 727h0M1163.9 727h0M1164.1 741.1h0M1164.3 716.9h0M1164.5 741.1h0M1164.7 741.1h0M1164.9 727h0M1165.1 741.1h0M1165.3 727h0M1165.4 741.1h0M1165.6 741.1h0M1165.8 727h0M1166 741.1h0M1166.2 716.9h0M1166.4 692.6h0M1166.6 709.1h0M1166.8 727h0M1167 727h0M1167.2 727h0M1167.3 727h0M1167.5 709.1h0M1167.7 741.1h0M1167.9 741.1h0M1168.1 727h0M1168.3 727h0M1168.5 709.1h0M1168.7 709.1h0M1168.9 727h0M1169.1 702.7h0M1169.2 709.1h0M1169.4 727h0M1169.6 727h0M1169.8 716.9h0M1170 716.9h0M1170.2 716.9h0M1170.4 741.1h0M1170.6 741.1h0M1170.8 716.9h0M1171 727h0M1171.1 727h0M1171.3 702.7h0M1171.5 716.9h0M1171.7 727h0M1171.9 727h0M1172.1 727h0M1172.3 716.9h0M1172.5 702.7h0M1172.7 716.9h0M1172.9 709.1h0M1173 727h0M1173.2 716.9h0M1173.4 727h0M1173.6 727h0M1173.8 727h0M1174 709.1h0M1174.2 741.1h0M1174.4 716.9h0M1174.6 716.9h0M1174.8 741.1h0M1174.9 727h0M1175.1 727h0M1175.3 716.9h0M1175.5 741.1h0M1175.7 727h0M1175.9 716.9h0M1176.1 709.1h0M1176.3 716.9h0M1176.5 727h0M1176.7 716.9h0M1176.8 716.9h0M1177 727h0M1177.2 716.9h0M1177.4 727h0M1177.6 727h0M1177.8 702.7h0M1178 709.1h0M1178.2 716.9h0M1178.4 741.1h0M1178.6 709.1h0M1178.7 741.1h0M1178.9 709.1h0M1179.1 709.1h0M1179.3 727h0M1179.5 727h0M1179.7 727h0M1179.9 727h0M1180.1 716.9h0M1180.3 727h0M1180.5 727h0M1180.6 709.1h0M1180.8 716.9h0M1181 727h0M1181.2 716.9h0M1181.4 727h0M1181.6 727h0M1181.8 741.1h0M1182 727h0M1182.2 716.9h0M1182.4 727h0M1182.5 741.1h0M1182.7 727h0M1182.9 727h0M1183.1 727h0M1183.3 741.1h0M1183.5 716.9h0M1183.7 741.1h0M1183.9 709.1h0M1184.1 727h0M1184.3 727h0M1184.4 727h0M1184.6 709.1h0M1184.8 741.1h0M1185 765.4h0M1185.2 709.1h0M1185.4 765.4h0M1185.6 709.1h0M1185.8 716.9h0M1186 741.1h0M1186.2 716.9h0M1186.3 741.1h0M1186.5 702.7h0M1186.7 741.1h0M1186.9 716.9h0M1187.1 716.9h0M1187.3 727h0M1187.5 716.9h0M1187.7 727h0M1187.9 741.1h0M1188.1 727h0M1188.2 727h0M1188.4 741.1h0M1188.6 727h0M1188.8 716.9h0M1189 741.1h0M1189.2 709.1h0M1189.4 727h0M1189.6 741.1h0M1189.8 709.1h0M1190 727h0M1190.1 727h0M1190.3 741.1h0M1190.5 741.1h0M1190.7 727h0M1190.9 741.1h0M1191.1 741.1h0M1191.3 727h0M1191.5 716.9h0M1191.7 765.4h0M1191.9 741.1h0M1192 727h0M1192.2 741.1h0M1192.4 727h0M1192.6 716.9h0M1192.8 741.1h0M1193 741.1h0M1193.2 716.9h0M1193.4 741.1h0M1193.6 727h0M1193.8 727h0M1193.9 716.9h0M1194.1 727h0M1194.3 727h0M1194.5 727h0M1194.7 741.1h0M1194.9 716.9h0M1195.1 727h0M1195.3 716.9h0M1195.5 709.1h0M1195.7 727h0M1195.8 727h0M1196 741.1h0M1196.2 727h0M1196.4 716.9h0M1196.6 727h0M1196.8 727h0M1197 741.1h0M1197.2 716.9h0M1197.4 727h0M1197.6 741.1h0M1197.7 727h0M1197.9 741.1h0M1198.1 709.1h0M1198.3 765.4h0M1198.5 702.7h0M1198.7 727h0M1198.9 709.1h0M1199.1 716.9h0M1199.3 741.1h0M1199.5 727h0M1199.6 709.1h0M1199.8 716.9h0M1200 716.9h0M1200.2 702.7h0M1200.4 727h0M1200.6 709.1h0M1200.8 727h0M1201 727h0M1201.2 709.1h0M1201.4 727h0M1201.5 741.1h0M1201.7 727h0M1201.9 741.1h0M1202.1 727h0M1202.3 709.1h0M1202.5 727h0M1202.7 741.1h0M1202.9 716.9h0M1203.1 741.1h0M1203.3 741.1h0M1203.4 727h0M1203.6 727h0M1203.8 727h0M1204 727h0M1204.2 765.4h0M1204.4 702.7h0M1204.6 741.1h0M1204.8 697.3h0M1205 727h0M1205.2 716.9h0M1205.3 727h0M1205.5 727h0M1205.7 709.1h0M1205.9 741.1h0M1206.1 727h0M1206.3 716.9h0M1206.5 741.1h0M1206.7 727h0M1206.9 741.1h0M1207.1 741.1h0M1207.2 716.9h0M1207.4 716.9h0M1207.6 727h0M1207.8 716.9h0M1208 727h0M1208.2 765.4h0M1208.4 727h0M1208.6 727h0M1208.8 727h0M1209 727h0M1209.1 727h0M1209.3 741.1h0M1209.5 741.1h0M1209.7 741.1h0M1209.9 727h0M1210.1 727h0M1210.3 716.9h0M1210.5 741.1h0M1210.7 716.9h0M1210.9 741.1h0M1211 727h0M1211.2 727h0M1211.4 716.9h0M1211.6 716.9h0M1211.8 702.7h0M1212 727h0M1212.2 727h0M1212.4 716.9h0M1212.6 709.1h0M1212.8 727h0M1212.9 697.3h0M1213.1 741.1h0M1213.3 727h0M1213.5 741.1h0M1213.7 727h0M1213.9 741.1h0M1214.1 727h0M1214.3 741.1h0M1214.5 709.1h0M1214.7 709.1h0M1214.8 716.9h0M1215 727h0M1215.2 741.1h0M1215.4 727h0M1215.6 727h0M1215.8 716.9h0M1216 727h0M1216.2 741.1h0M1216.4 765.4h0M1216.6 741.1h0M1216.7 716.9h0M1216.9 727h0M1217.1 727h0M1217.3 709.1h0M1217.5 727h0M1217.7 727h0M1217.9 727h0M1218.1 727h0M1218.3 765.4h0M1218.5 765.4h0M1218.6 741.1h0M1218.8 716.9h0M1219 727h0M1219.2 716.9h0M1219.4 727h0M1219.6 727h0M1219.8 741.1h0M1220 741.1h0M1220.2 702.7h0M1220.4 727h0M1220.5 702.7h0M1220.7 741.1h0M1220.9 716.9h0M1221.1 741.1h0M1221.3 741.1h0M1221.5 727h0M1221.7 765.4h0M1221.9 727h0M1222.1 727h0M1222.3 741.1h0M1222.4 741.1h0M1222.6 716.9h0M1222.8 765.4h0M1223 716.9h0M1223.2 727h0M1223.4 727h0M1223.6 741.1h0M1223.8 727h0M1224 741.1h0M1224.2 727h0M1224.3 741.1h0M1224.5 727h0M1224.7 727h0M1224.9 716.9h0M1225.1 727h0M1225.3 702.7h0M1225.5 741.1h0M1225.7 709.1h0M1225.9 716.9h0M1226.1 727h0M1226.2 765.4h0M1226.4 727h0M1226.6 727h0M1226.8 741.1h0M1227 741.1h0M1227.2 727h0M1227.4 741.1h0M1227.6 727h0M1227.8 702.7h0M1228 727h0M1228.1 727h0M1228.3 727h0M1228.5 709.1h0M1228.7 716.9h0M1228.9 741.1h0M1229.1 716.9h0M1229.3 727h0M1229.5 727h0M1229.7 727h0M1229.9 741.1h0M1230 727h0M1230.2 716.9h0M1230.4 727h0M1230.6 727h0M1230.8 727h0M1231 702.7h0M1231.2 727h0M1231.4 741.1h0M1231.6 741.1h0M1231.8 741.1h0M1231.9 765.4h0M1232.1 727h0M1232.3 741.1h0M1232.5 741.1h0M1232.7 727h0M1232.9 709.1h0M1233.1 702.7h0M1233.3 727h0M1233.5 716.9h0M1233.7 727h0M1233.8 702.7h0M1234 727h0M1234.2 741.1h0M1234.4 727h0M1234.6 727h0M1234.8 741.1h0M1235 716.9h0M1235.2 727h0M1235.4 727h0M1235.6 741.1h0M1235.7 727h0M1235.9 741.1h0M1236.1 716.9h0M1236.3 727h0M1236.5 716.9h0M1236.7 727h0M1236.9 765.4h0M1237.1 741.1h0M1237.3 716.9h0M1237.5 727h0M1237.6 727h0M1237.8 741.1h0M1238 716.9h0M1238.2 727h0M1238.4 709.1h0M1238.6 727h0M1238.8 709.1h0M1239 716.9h0M1239.2 741.1h0M1239.4 727h0M1239.5 741.1h0M1239.7 716.9h0M1239.9 741.1h0M1240.1 741.1h0M1240.3 727h0M1240.5 727h0M1240.7 727h0M1240.9 741.1h0M1241.1 727h0M1241.3 727h0M1241.4 727h0M1241.6 741.1h0M1241.8 741.1h0M1242 716.9h0M1242.2 727h0M1242.4 709.1h0M1242.6 716.9h0M1242.8 741.1h0M1243 727h0M1243.2 727h0M1243.3 727h0M1243.5 716.9h0M1243.7 702.7h0M1243.9 716.9h0M1244.1 727h0M1244.3 727h0M1244.5 727h0M1244.7 727h0M1244.9 727h0M1245.1 709.1h0M1245.2 727h0M1245.4 716.9h0M1245.6 716.9h0M1245.8 741.1h0M1246 741.1h0M1246.2 716.9h0M1246.4 727h0M1246.6 741.1h0M1246.8 702.7h0M1247 741.1h0M1247.1 709.1h0M1247.3 709.1h0M1247.5 727h0M1247.7 727h0M1247.9 765.4h0M1248.1 727h0M1248.3 727h0M1248.5 727h0M1248.7 709.1h0M1248.9 741.1h0M1249 716.9h0M1249.2 727h0M1249.4 727h0M1249.6 702.7h0M1249.8 741.1h0M1250 727h0M1250.2 702.7h0M1250.4 727h0M1250.6 765.4h0M1250.8 727h0M1250.9 741.1h0M1251.1 716.9h0M1251.3 727h0M1251.5 741.1h0M1251.7 727h0M1251.9 727h0M1252.1 765.4h0M1252.3 727h0M1252.5 709.1h0M1252.7 709.1h0M1252.8 727h0M1253 765.4h0M1253.2 727h0M1253.4 727h0M1253.6 741.1h0M1253.8 727h0M1254 727h0M1254.2 716.9h0M1254.4 716.9h0M1254.6 727h0M1254.7 727h0M1254.9 727h0M1255.1 716.9h0M1255.3 741.1h0M1255.5 716.9h0M1255.7 716.9h0M1255.9 741.1h0M1256.1 716.9h0M1256.3 716.9h0M1256.5 727h0M1256.6 765.4h0M1256.8 727h0M1257 727h0M1257.2 741.1h0M1257.4 716.9h0M1257.6 727h0M1257.8 702.7h0M1258 716.9h0M1258.2 727h0M1258.4 727h0M1258.5 765.4h0M1258.7 727h0M1258.9 716.9h0M1259.1 727h0M1259.3 727h0M1259.5 727h0M1259.7 709.1h0M1259.9 727h0M1260.1 716.9h0M1260.3 741.1h0M1260.4 727h0M1260.6 716.9h0M1260.8 727h0M1261 716.9h0M1261.2 716.9h0M1261.4 727h0M1261.6 727h0M1261.8 765.4h0M1262 741.1h0M1262.2 727h0M1262.3 727h0M1262.5 716.9h0M1262.7 727h0M1262.9 741.1h0M1263.1 709.1h0M1263.3 727h0M1263.5 716.9h0M1263.7 716.9h0M1263.9 727h0M1264.1 727h0M1264.2 741.1h0M1264.4 727h0M1264.6 727h0M1264.8 741.1h0M1265 702.7h0M1027.6 716.9h0M1028.5 765.4h0M1030 702.7h0M1031.2 709.1h0M1030 727h0M1028.5 741.1h0M1027.1 727h0M1030.4 765.4h0M1031.9 765.4h0M1032.3 678.4h0M1032.8 655.1h0M1033.3 615.1h0M1033.8 568.2h0M1034.2 528.6h0M1034.7 499.3h0" stroke="#3c4da6" stroke-width="2.9" stroke-linecap="square" fill="none"/>
<path d="M1032.7 630.9 1032.9 579.9 1033.2 537.8 1033.5 501.8 1034.5 487.6 1035.4 481.5 1036.1 486.7 1036.7 499.3 1037.1 537.8 1037.5 594.1 1037.8 636.3 1038.3 678.4 1038.8 711.5 1039.2 735.7 1039.6 750.4 1039.9 755.3 1040.2 755.3 1040.5 755.3 1040.8 755.3 1041.1 741.1 1041.4 731.1 1041.7 711.5 1042 706.8 1042.3 706.8 1042.6 706.8 1042.9 706.8 1043.2 699 1043.5 692.6 1043.8 687.2 1044.1 687.2 1044.4 684.8 1044.7 689.8 1045 706.8 1045.3 674.7 1045.6 702.7 1045.9 682.5 1046.2 678.4 1046.5 682.5 1046.8 671.4 1047.1 678.4 1047.4 680.4 1047.7 676.5 1048 665.6 1048.3 669.8 1048.6 673 1048.9 673 1049.2 663 1049.4 684.8 1049.7 689.8 1050 665.6 1050.3 678.4 1050.6 680.4 1050.9 680.4 1051.2 680.4 1051.5 689.8 1051.8 687.2 1052.1 684.8 1052.4 673 1052.7 668.4 1053 699 1053.3 669.8 1053.6 692.6 1053.9 702.7 1054.2 689.8 1054.5 684.8 1054.8 695.7 1055.1 702.7 1055.4 684.8 1055.7 702.7 1056 684.8 1056.3 695.7 1056.6 699 1056.9 692.6 1057.2 711.5 1057.5 692.6 1057.8 684.8 1058.1 682.5 1058.4 711.5 1058.7 676.5 1058.9 706.8 1059.2 702.7 1059.5 676.5 1059.8 702.7 1060.1 706.8 1060.4 706.8 1060.7 723.3 1061 702.7 1061.3 695.7 1061.6 687.2 1061.9 689.8 1062.2 716.9 1062.5 695.7 1062.8 692.6 1063.1 716.9 1063.4 706.8 1063.7 723.3 1064 716.9 1064.3 731.1 1064.6 723.3 1064.9 723.3 1065.2 692.6 1065.5 741.1 1065.8 692.6 1066.1 706.8 1066.4 699 1066.7 716.9 1067 711.5 1067.3 711.5 1067.6 723.3 1067.9 779.6 1068.2 755.3 1068.4 716.9 1068.7 711.5 1069 731.1 1069.3 741.1 1069.6 723.3 1069.9 711.5 1070.2 723.3 1070.5 741.1 1070.8 741.1 1071.1 723.3 1071.4 723.3 1071.7 706.8 1072 702.7 1072.3 716.9 1072.6 723.3 1072.9 716.9 1073.2 741.1 1073.5 731.1 1073.8 779.6 1074.1 741.1 1074.4 723.3 1074.7 755.3 1075 716.9 1075.3 716.9 1075.6 755.3 1075.9 723.3 1076.2 723.3 1076.5 702.7 1076.8 723.3 1077.1 779.6 1077.4 741.1 1077.7 779.6 1077.9 731.1 1078.2 779.6 1078.5 731.1 1078.8 723.3 1079.1 779.6 1079.4 741.1 1079.7 731.1 1080 741.1 1080.3 741.1 1080.6 755.3 1080.9 741.1 1081.2 779.6 1081.5 779.6 1081.8 755.3 1082.1 779.6 1082.4 723.3 1082.7 779.6 1083 741.1 1083.3 723.3 1083.6 755.3 1083.9 779.6 1084.2 800.5 1084.5 800.5 1084.8 723.3 1085.1 755.3 1085.4 741.1 1085.7 779.6 1086 779.6 1086.3 800.5 1086.6 779.6 1086.9 741.1 1087.2 741.1 1087.4 741.1 1087.7 755.3 1088 779.6 1088.3 779.6 1088.6 755.3 1088.9 779.6 1089.2 779.6 1089.5 779.6 1089.8 755.3 1090.1 755.3 1090.4 741.1 1090.7 779.6 1091 800.5 1091.3 755.3 1091.6 755.3 1091.9 800.5 1092.2 800.5 1092.5 755.3 1092.8 800.5" fill="none" stroke="#000" stroke-width="1.7" stroke-linejoin="round" stroke-linecap="round" stroke-linejoin="miter"/>
<path d="M1101 782L1101.7 755.3L1102.4 782M1105.3 782L1106 755.3L1106.7 782M1111.2 782L1111.9 741.1L1112.6 782M1121.9 782L1122.6 755.3L1123.3 782M1159.9 782L1160.6 755.3L1161.3 782M1193.1 782L1193.8 755.3L1194.6 782M1219.3 782L1220 755.3L1220.7 782M1240.6 782L1241.3 755.3L1242.1 782M1247.8 782L1248.5 755.3L1249.2 782" stroke="#000" stroke-width="1.8" fill="none"/>
</g>
<rect x="1004" y="473" width="380.5" height="306.8" fill="none" stroke="#111" stroke-width="2.6"/>
<path d="M1027.6 779.8v6M1075.1 779.8v6M1122.6 779.8v6M1170.1 779.8v6M1217.6 779.8v6M1265.1 779.8v6M1312.6 779.8v6M1360.1 779.8v6M1003.8 779.8v3.4M1051.3 779.8v3.4M1098.8 779.8v3.4M1146.3 779.8v3.4M1193.8 779.8v3.4M1241.3 779.8v3.4M1288.8 779.8v3.4M1336.3 779.8v3.4M1383.8 779.8v3.4" stroke="#111" stroke-width="2.2" fill="none"/>
<path d="M1004 779.6h-6.3M1004 699h-6.3M1004 618.4h-6.3M1004 537.8h-6.3M1004 755.3h-4M1004 741.1h-4M1004 731.1h-4M1004 723.3h-4M1004 716.9h-4M1004 711.5h-4M1004 706.8h-4M1004 702.7h-4M1004 674.7h-4M1004 660.5h-4M1004 650.5h-4M1004 642.7h-4M1004 636.3h-4M1004 630.9h-4M1004 626.2h-4M1004 622.1h-4M1004 594.1h-4M1004 579.9h-4M1004 569.9h-4M1004 562.1h-4M1004 555.7h-4M1004 550.3h-4M1004 545.6h-4M1004 541.5h-4M1004 513.5h-4M1004 499.3h-4M1004 489.3h-4M1004 481.5h-4M1004 475.1h-4" stroke="#111" stroke-width="1.8" fill="none"/>
<text transform="translate(1027.6 801.8)" font-size="16.0" text-anchor="middle" fill="#111">0</text>
<text transform="translate(1075.1 801.8)" font-size="16.0" text-anchor="middle" fill="#111">2</text>
<text transform="translate(1122.6 801.8)" font-size="16.0" text-anchor="middle" fill="#111">4</text>
<text transform="translate(1170.1 801.8)" font-size="16.0" text-anchor="middle" fill="#111">6</text>
<text transform="translate(1217.6 801.8)" font-size="16.0" text-anchor="middle" fill="#111">8</text>
<text transform="translate(1265.1 801.8)" font-size="16.0" text-anchor="middle" fill="#111">10</text>
<text transform="translate(1312.6 801.8)" font-size="16.0" text-anchor="middle" fill="#111">12</text>
<text transform="translate(1360.1 801.8)" font-size="16.0" text-anchor="middle" fill="#111">14</text>
<text transform="translate(994 785.6)" font-size="15.6" text-anchor="end" fill="#111">10<tspan font-size="72%" dy="-0.52em">0</tspan></text>
<text transform="translate(994 705)" font-size="15.6" text-anchor="end" fill="#111">10<tspan font-size="72%" dy="-0.52em">1</tspan></text>
<text transform="translate(994 624.4)" font-size="15.6" text-anchor="end" fill="#111">10<tspan font-size="72%" dy="-0.52em">2</tspan></text>
<text transform="translate(994 543.8)" font-size="15.6" text-anchor="end" fill="#111">10<tspan font-size="72%" dy="-0.52em">3</tspan></text>
<text transform="translate(1194.2 830.7)" font-size="17.0" text-anchor="middle" fill="#111">Time (&#181;s)</text>
<text transform="translate(960 625.5) rotate(-90)" font-size="16.5" text-anchor="middle" fill="#111">Counts</text>
<path d="M1135 502.5h42" stroke="#ed1c24" stroke-width="4.4" stroke-dasharray="4 3.6" fill="none"/>
<path d="M1135 528h42" stroke="#3c4da6" stroke-width="4.4" stroke-dasharray="4 3.6" fill="none"/>
<text transform="translate(1189 508)" font-size="16.0" text-anchor="start" fill="#111">Au<tspan font-size="64%" dy="0.50em">16</tspan><tspan dy="-0.32em">&#8203;</tspan>Cu<tspan font-size="64%" dy="0.50em">6</tspan><tspan dy="-0.32em">&#8203;</tspan> Decay</text>
<text transform="translate(1189 533)" font-size="16.0" text-anchor="start" fill="#111">Au<tspan font-size="64%" dy="0.50em">22</tspan><tspan dy="-0.32em">&#8203;</tspan> Decay</text>
</svg>
</body></html>
